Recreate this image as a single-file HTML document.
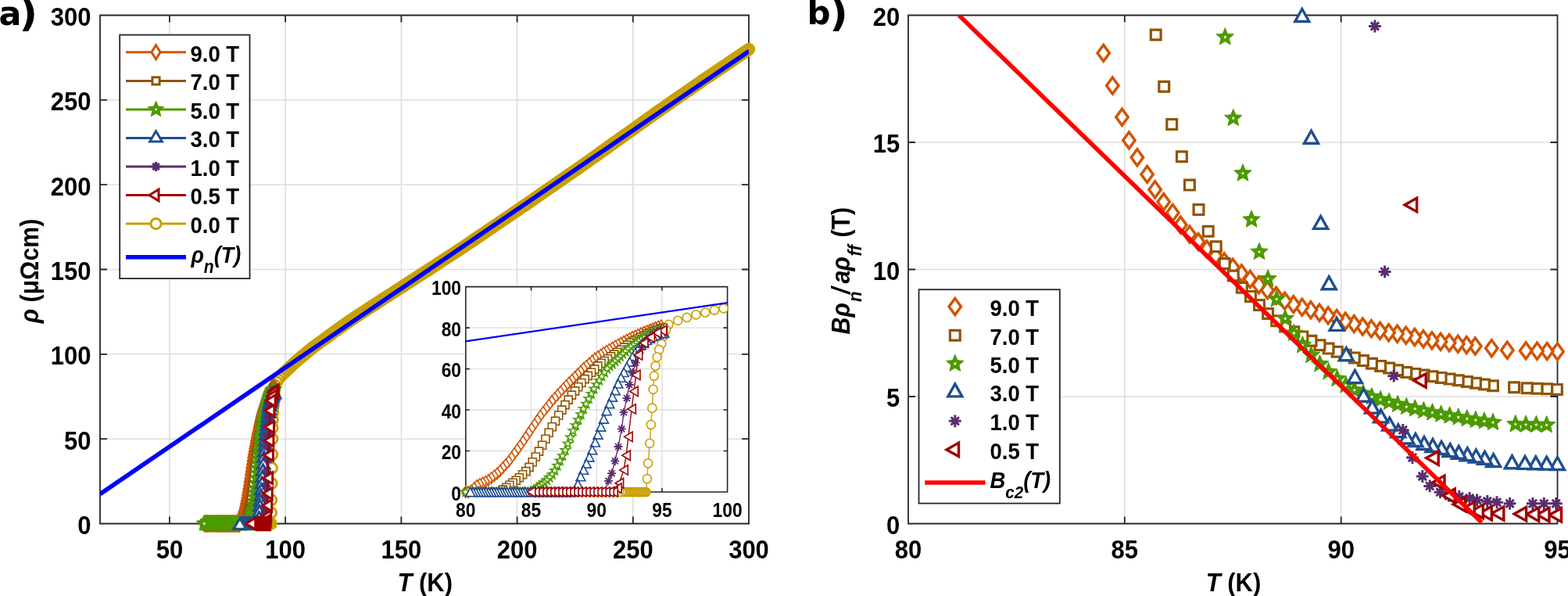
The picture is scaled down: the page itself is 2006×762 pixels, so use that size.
<!DOCTYPE html><html><head><meta charset="utf-8"><title>Figure</title><style>html,body{margin:0;padding:0;background:#fff;}svg{display:block;}</style></head><body>
<svg width="2006" height="762" viewBox="0 0 2006 762" font-family='"Liberation Sans", Arial, Helvetica, sans-serif' font-weight="bold">
<rect width="2006" height="762" fill="#fff"/>
<defs><clipPath id="ca"><rect x="128" y="19.5" width="830" height="650"/></clipPath><clipPath id="cb"><rect x="1162" y="19.5" width="830.5" height="650"/></clipPath><clipPath id="ci"><rect x="595.8" y="366.6" width="334.8" height="262.4"/></clipPath></defs>
<path d="M216.9 19.5V669.5M365.1 19.5V669.5M513.4 19.5V669.5M661.6 19.5V669.5M809.8 19.5V669.5M128 561.2H958M128 452.8H958M128 344.5H958M128 236.2H958M128 127.8H958" stroke="#dedede" stroke-width="1.6" fill="none"/>
<path d="M128 19.5H958V669.5H128ZM216.9 669.5V660.5M216.9 19.5V28.5M365.1 669.5V660.5M365.1 19.5V28.5M513.4 669.5V660.5M513.4 19.5V28.5M661.6 669.5V660.5M661.6 19.5V28.5M809.8 669.5V660.5M809.8 19.5V28.5M958 669.5V660.5M958 19.5V28.5M128 669.5H137M958 669.5H949M128 561.2H137M958 561.2H949M128 452.8H137M958 452.8H949M128 344.5H137M958 344.5H949M128 236.2H137M958 236.2H949M128 127.8H137M958 127.8H949M128 19.5H137M958 19.5H949" stroke="#262626" stroke-width="1.8" fill="none"/>
<path d="M306 669.5L306.9 669.5L307.8 669.5L308.7 669.5L309.6 669.5L310.5 669.5L311.3 669.5L312.2 669.5L313.1 669.5L314 669.5L314.9 669.5L315.8 669.5L316.7 669.5L317.6 669.5L318.5 669.5L319.3 669.5L320.2 669.5L321.1 669.5L322 669.5L322.9 669.5L323.8 669.5L324.7 669.5L325.6 669.5L326.5 669.5L327.3 669.5L328.2 669.5L329.1 669.5L330 669.5L330.9 669.5L331.8 669.5L332.7 669.5L333.6 669.5L334.5 669.5L335.4 669.5L336.2 669.5L337.1 669.5L338 669.5L338.9 669.5L339.8 669.5L340.7 669.5L341.1 669.5L341.4 669.5L341.7 669.5L342 669.5L342.2 669.5L342.5 669.5L342.8 669.5L343.1 669.5L343.4 669.5L343.6 669.5L343.9 669.5L344.2 669.5L344.5 669.5L344.8 669.5L345 669.5L345.3 669.5L345.6 669.5L345.9 669.5L346.1 669.5L346.4 669.5L346.7 669.5L346.9 655.6L347.2 639.2L347.5 618.1L347.8 598.4L348.1 580.9L348.3 561.2L348.5 547.1L348.8 536.5L349.2 527.1L349.7 519.1L350.2 513.3L350.8 504.8L351.2 498.3L351.8 492.7L353.9 488.5L356 485.3L358.1 482.3L360.1 480L362.2 477.6L364.3 475.7L366.6 473.5L369.3 470.9L372 468.4L374.6 465.9L377.3 463.6L380 461.2L382.6 458.8L385.3 456.5L388 454.3L390.6 452.1L393.3 449.9L396 447.8L398.6 445.6L401.3 443.5L404 441.5L406.6 439.6L409.3 437.6L412 435.7L414.6 433.8L417.3 431.8L420 429.9L422.6 427.9L425.3 426L428 424.1L430.7 422.1L433.3 420.2L436 418.2L438.7 416.3L441.3 414.5L444 412.7L446.7 410.9L449.3 409.1L452 407.3L454.7 405.5L457.3 403.7L460 401.9L462.7 400.2L465.3 398.5L468 396.7L470.7 395L473.3 393.3L476 391.6L478.7 389.8L481.3 388.1L484 386.4L486.7 384.6L489.3 382.9L492 381.2L494.7 379.4L497.4 377.7L500 376L502.7 374.2L505.4 372.5L508 370.8L510.7 369.1L513.4 367.3L516 365.6L518.7 363.9L521.4 362.1L524 360.4L526.7 358.7L529.4 356.9L532 355.2L534.7 353.5L537.4 351.8L540 350.1L542.7 348.5L545.4 346.8L548 345.1L550.7 343.3L553.4 341.6L556 339.8L558.7 338.1L561.4 336.3L564 334.6L566.7 332.8L569.4 331.1L572.1 329.3L574.7 327.6L577.4 325.8L580.1 324.1L582.7 322.3L585.4 320.6L588.1 318.8L590.7 317.1L593.4 315.3L596.1 313.6L598.7 311.8L601.4 310L604.1 308.2L606.7 306.4L609.4 304.6L612.1 302.8L614.7 301L617.4 299.2L620.1 297.4L622.7 295.6L625.4 293.8L628.1 291.9L630.7 290.1L633.4 288.3L636.1 286.5L638.7 284.7L641.4 282.9L644.1 281.1L646.8 279.2L649.4 277.4L652.1 275.6L654.8 273.8L657.4 272L660.1 270.2L662.8 268.4L665.4 266.5L668.1 264.7L670.8 262.9L673.4 261.1L676.1 259.2L678.8 257.4L681.4 255.5L684.1 253.7L686.8 251.8L689.4 250L692.1 248.1L694.8 246.3L697.4 244.4L700.1 242.6L702.8 240.7L705.4 238.9L708.1 237L710.8 235.2L713.4 233.3L716.1 231.5L718.8 229.6L721.5 227.8L724.1 225.9L726.8 224.1L729.5 222.2L732.1 220.4L734.8 218.5L737.5 216.7L740.1 214.8L742.8 213L745.5 211.1L748.1 209.3L750.8 207.4L753.5 205.5L756.1 203.6L758.8 201.7L761.5 199.8L764.1 197.9L766.8 196L769.5 194.1L772.1 192.2L774.8 190.3L777.5 188.4L780.1 186.5L782.8 184.6L785.5 182.7L788.1 180.8L790.8 178.9L793.5 177L796.1 175.1L798.8 173.1L801.5 171.2L804.2 169.3L806.8 167.4L809.5 165.5L812.2 163.6L814.8 161.7L817.5 159.8L820.2 157.9L822.8 156L825.5 154.1L828.2 152.2L830.8 150.3L833.5 148.4L836.2 146.5L838.8 144.6L841.5 142.7L844.2 140.9L846.8 139L849.5 137.2L852.2 135.3L854.8 133.5L857.5 131.6L860.2 129.8L862.8 127.9L865.5 126.1L868.2 124.2L870.9 122.4L873.5 120.5L876.2 118.7L878.9 116.8L881.5 115L884.2 113.1L886.9 111.3L889.5 109.4L892.2 107.6L894.9 105.7L897.5 103.9L900.2 102.1L902.9 100.3L905.5 98.5L908.2 96.7L910.9 94.9L913.5 93.1L916.2 91.3L918.9 89.5L921.5 87.7L924.2 85.9L926.9 84.1L929.5 82.3L932.2 80.5L934.9 78.7L937.5 76.9L940.2 75L942.9 73.2L945.5 71.4L948.2 69.6L950.9 67.8L953.6 66L956.2 64.2L958.9 62.4" stroke="#C8A000" stroke-width="2" fill="none" stroke-linejoin="round"/>
<path d="M362.2 477.6L365.1 474.9L371.1 469.2L377 463.8L382.9 458.6L388.9 453.6L394.8 448.7L400.7 443.9L406.6 439.6L412.6 435.3L418.5 431L424.4 426.7L430.4 422.3L436.3 418L442.2 413.9L448.1 409.9L454.1 405.9L460 401.9L465.9 398.1L471.9 394.2L477.8 390.4L483.7 386.6L489.6 382.7L495.6 378.9L501.5 375L507.4 371.2L513.4 367.3L519.3 363.5L525.2 359.6L531.1 355.8L537.1 352L543 348.3L548.9 344.5L554.9 340.6L560.8 336.7L566.7 332.8L572.6 328.9L578.6 325.1L584.5 321.2L590.4 317.3L596.4 313.4L602.3 309.4L608.2 305.4L614.1 301.4L620.1 297.4L626 293.4L631.9 289.3L637.9 285.3L643.8 281.3L649.7 277.2L655.6 273.2L661.6 269.2L667.5 265.1L673.4 261.1L679.4 257L685.3 252.8L691.2 248.7L697.1 244.6L703.1 240.5L709 236.4L714.9 232.3L720.9 228.2L726.8 224.1L732.7 220L738.6 215.9L744.6 211.8L750.5 207.6L756.4 203.4L762.4 199.2L768.3 194.9L774.2 190.7L780.1 186.5L786.1 182.2L792 178L797.9 173.8L803.9 169.6L809.8 165.3L815.7 161.1L821.6 156.9L827.6 152.6L833.5 148.4L839.4 144.2L845.4 140L851.3 135.9L857.2 131.8L863.1 127.7L869.1 123.6L875 119.5L880.9 115.4L886.9 111.3L892.8 107.2L898.7 103.1L904.6 99.1L910.6 95.1L916.5 91.1L922.4 87.1L928.4 83.1L934.3 79.1L940.2 75L946.1 71L952.1 67L958 63" stroke="#C8A000" stroke-width="16.4" fill="none" stroke-linecap="round" stroke-linejoin="round"/>
<g fill="#fff" stroke="#C8A000" stroke-width="3" stroke-linejoin="miter" stroke-miterlimit="10"><path d="M357.7 475.7a6.6 6.6 0 1 0 13.2 0a6.6 6.6 0 1 0 -13.2 0"/><path d="M355.6 477.6a6.6 6.6 0 1 0 13.2 0a6.6 6.6 0 1 0 -13.2 0"/><path d="M353.5 480a6.6 6.6 0 1 0 13.2 0a6.6 6.6 0 1 0 -13.2 0"/><path d="M351.5 482.3a6.6 6.6 0 1 0 13.2 0a6.6 6.6 0 1 0 -13.2 0"/><path d="M349.4 485.3a6.6 6.6 0 1 0 13.2 0a6.6 6.6 0 1 0 -13.2 0"/><path d="M347.3 488.5a6.6 6.6 0 1 0 13.2 0a6.6 6.6 0 1 0 -13.2 0"/><path d="M345.2 492.7a6.6 6.6 0 1 0 13.2 0a6.6 6.6 0 1 0 -13.2 0"/><path d="M344.6 498.3a6.6 6.6 0 1 0 13.2 0a6.6 6.6 0 1 0 -13.2 0"/><path d="M344.2 504.8a6.6 6.6 0 1 0 13.2 0a6.6 6.6 0 1 0 -13.2 0"/><path d="M343.6 513.3a6.6 6.6 0 1 0 13.2 0a6.6 6.6 0 1 0 -13.2 0"/><path d="M343.1 519.1a6.6 6.6 0 1 0 13.2 0a6.6 6.6 0 1 0 -13.2 0"/><path d="M342.6 527.1a6.6 6.6 0 1 0 13.2 0a6.6 6.6 0 1 0 -13.2 0"/><path d="M342.2 536.5a6.6 6.6 0 1 0 13.2 0a6.6 6.6 0 1 0 -13.2 0"/><path d="M341.9 547.1a6.6 6.6 0 1 0 13.2 0a6.6 6.6 0 1 0 -13.2 0"/><path d="M341.7 561.2a6.6 6.6 0 1 0 13.2 0a6.6 6.6 0 1 0 -13.2 0"/><path d="M341.5 580.9a6.6 6.6 0 1 0 13.2 0a6.6 6.6 0 1 0 -13.2 0"/><path d="M341.2 598.4a6.6 6.6 0 1 0 13.2 0a6.6 6.6 0 1 0 -13.2 0"/><path d="M340.9 618.1a6.6 6.6 0 1 0 13.2 0a6.6 6.6 0 1 0 -13.2 0"/><path d="M340.6 639.2a6.6 6.6 0 1 0 13.2 0a6.6 6.6 0 1 0 -13.2 0"/><path d="M340.3 655.6a6.6 6.6 0 1 0 13.2 0a6.6 6.6 0 1 0 -13.2 0"/><path d="M340.1 669.5a6.6 6.6 0 1 0 13.2 0a6.6 6.6 0 1 0 -13.2 0"/><path d="M339.8 669.5a6.6 6.6 0 1 0 13.2 0a6.6 6.6 0 1 0 -13.2 0"/><path d="M339.5 669.5a6.6 6.6 0 1 0 13.2 0a6.6 6.6 0 1 0 -13.2 0"/><path d="M339.3 669.5a6.6 6.6 0 1 0 13.2 0a6.6 6.6 0 1 0 -13.2 0"/><path d="M339 669.5a6.6 6.6 0 1 0 13.2 0a6.6 6.6 0 1 0 -13.2 0"/><path d="M338.7 669.5a6.6 6.6 0 1 0 13.2 0a6.6 6.6 0 1 0 -13.2 0"/><path d="M338.4 669.5a6.6 6.6 0 1 0 13.2 0a6.6 6.6 0 1 0 -13.2 0"/><path d="M338.2 669.5a6.6 6.6 0 1 0 13.2 0a6.6 6.6 0 1 0 -13.2 0"/><path d="M337.9 669.5a6.6 6.6 0 1 0 13.2 0a6.6 6.6 0 1 0 -13.2 0"/><path d="M337.6 669.5a6.6 6.6 0 1 0 13.2 0a6.6 6.6 0 1 0 -13.2 0"/><path d="M337.3 669.5a6.6 6.6 0 1 0 13.2 0a6.6 6.6 0 1 0 -13.2 0"/><path d="M337 669.5a6.6 6.6 0 1 0 13.2 0a6.6 6.6 0 1 0 -13.2 0"/><path d="M336.8 669.5a6.6 6.6 0 1 0 13.2 0a6.6 6.6 0 1 0 -13.2 0"/><path d="M336.5 669.5a6.6 6.6 0 1 0 13.2 0a6.6 6.6 0 1 0 -13.2 0"/><path d="M336.2 669.5a6.6 6.6 0 1 0 13.2 0a6.6 6.6 0 1 0 -13.2 0"/><path d="M335.9 669.5a6.6 6.6 0 1 0 13.2 0a6.6 6.6 0 1 0 -13.2 0"/><path d="M335.6 669.5a6.6 6.6 0 1 0 13.2 0a6.6 6.6 0 1 0 -13.2 0"/><path d="M335.4 669.5a6.6 6.6 0 1 0 13.2 0a6.6 6.6 0 1 0 -13.2 0"/><path d="M335.1 669.5a6.6 6.6 0 1 0 13.2 0a6.6 6.6 0 1 0 -13.2 0"/><path d="M334.8 669.5a6.6 6.6 0 1 0 13.2 0a6.6 6.6 0 1 0 -13.2 0"/><path d="M334.5 669.5a6.6 6.6 0 1 0 13.2 0a6.6 6.6 0 1 0 -13.2 0"/><path d="M334.1 669.5a6.6 6.6 0 1 0 13.2 0a6.6 6.6 0 1 0 -13.2 0"/><path d="M333.2 669.5a6.6 6.6 0 1 0 13.2 0a6.6 6.6 0 1 0 -13.2 0"/><path d="M332.3 669.5a6.6 6.6 0 1 0 13.2 0a6.6 6.6 0 1 0 -13.2 0"/><path d="M331.4 669.5a6.6 6.6 0 1 0 13.2 0a6.6 6.6 0 1 0 -13.2 0"/><path d="M330.5 669.5a6.6 6.6 0 1 0 13.2 0a6.6 6.6 0 1 0 -13.2 0"/><path d="M329.6 669.5a6.6 6.6 0 1 0 13.2 0a6.6 6.6 0 1 0 -13.2 0"/><path d="M328.8 669.5a6.6 6.6 0 1 0 13.2 0a6.6 6.6 0 1 0 -13.2 0"/><path d="M327.9 669.5a6.6 6.6 0 1 0 13.2 0a6.6 6.6 0 1 0 -13.2 0"/><path d="M327 669.5a6.6 6.6 0 1 0 13.2 0a6.6 6.6 0 1 0 -13.2 0"/><path d="M326.1 669.5a6.6 6.6 0 1 0 13.2 0a6.6 6.6 0 1 0 -13.2 0"/><path d="M325.2 669.5a6.6 6.6 0 1 0 13.2 0a6.6 6.6 0 1 0 -13.2 0"/><path d="M324.3 669.5a6.6 6.6 0 1 0 13.2 0a6.6 6.6 0 1 0 -13.2 0"/><path d="M323.4 669.5a6.6 6.6 0 1 0 13.2 0a6.6 6.6 0 1 0 -13.2 0"/><path d="M322.5 669.5a6.6 6.6 0 1 0 13.2 0a6.6 6.6 0 1 0 -13.2 0"/><path d="M321.6 669.5a6.6 6.6 0 1 0 13.2 0a6.6 6.6 0 1 0 -13.2 0"/><path d="M320.7 669.5a6.6 6.6 0 1 0 13.2 0a6.6 6.6 0 1 0 -13.2 0"/><path d="M319.9 669.5a6.6 6.6 0 1 0 13.2 0a6.6 6.6 0 1 0 -13.2 0"/><path d="M319 669.5a6.6 6.6 0 1 0 13.2 0a6.6 6.6 0 1 0 -13.2 0"/><path d="M318.1 669.5a6.6 6.6 0 1 0 13.2 0a6.6 6.6 0 1 0 -13.2 0"/><path d="M317.2 669.5a6.6 6.6 0 1 0 13.2 0a6.6 6.6 0 1 0 -13.2 0"/><path d="M316.3 669.5a6.6 6.6 0 1 0 13.2 0a6.6 6.6 0 1 0 -13.2 0"/><path d="M315.4 669.5a6.6 6.6 0 1 0 13.2 0a6.6 6.6 0 1 0 -13.2 0"/><path d="M314.5 669.5a6.6 6.6 0 1 0 13.2 0a6.6 6.6 0 1 0 -13.2 0"/><path d="M313.6 669.5a6.6 6.6 0 1 0 13.2 0a6.6 6.6 0 1 0 -13.2 0"/><path d="M312.7 669.5a6.6 6.6 0 1 0 13.2 0a6.6 6.6 0 1 0 -13.2 0"/><path d="M311.9 669.5a6.6 6.6 0 1 0 13.2 0a6.6 6.6 0 1 0 -13.2 0"/><path d="M311 669.5a6.6 6.6 0 1 0 13.2 0a6.6 6.6 0 1 0 -13.2 0"/><path d="M310.1 669.5a6.6 6.6 0 1 0 13.2 0a6.6 6.6 0 1 0 -13.2 0"/><path d="M309.2 669.5a6.6 6.6 0 1 0 13.2 0a6.6 6.6 0 1 0 -13.2 0"/><path d="M308.3 669.5a6.6 6.6 0 1 0 13.2 0a6.6 6.6 0 1 0 -13.2 0"/><path d="M307.4 669.5a6.6 6.6 0 1 0 13.2 0a6.6 6.6 0 1 0 -13.2 0"/><path d="M306.5 669.5a6.6 6.6 0 1 0 13.2 0a6.6 6.6 0 1 0 -13.2 0"/><path d="M305.6 669.5a6.6 6.6 0 1 0 13.2 0a6.6 6.6 0 1 0 -13.2 0"/><path d="M304.7 669.5a6.6 6.6 0 1 0 13.2 0a6.6 6.6 0 1 0 -13.2 0"/><path d="M303.9 669.5a6.6 6.6 0 1 0 13.2 0a6.6 6.6 0 1 0 -13.2 0"/><path d="M303 669.5a6.6 6.6 0 1 0 13.2 0a6.6 6.6 0 1 0 -13.2 0"/><path d="M302.1 669.5a6.6 6.6 0 1 0 13.2 0a6.6 6.6 0 1 0 -13.2 0"/><path d="M301.2 669.5a6.6 6.6 0 1 0 13.2 0a6.6 6.6 0 1 0 -13.2 0"/><path d="M300.3 669.5a6.6 6.6 0 1 0 13.2 0a6.6 6.6 0 1 0 -13.2 0"/><path d="M299.4 669.5a6.6 6.6 0 1 0 13.2 0a6.6 6.6 0 1 0 -13.2 0"/></g>
<path d="M261.4 669.5L262.9 669.5L264.4 669.5L265.8 669.5L267.3 669.5L268.8 669.5L270.3 669.5L271.8 669.5L273.2 669.5L274.7 669.5L276.2 669.5L277.7 669.5L279.2 669.5L280.7 669.5L282.1 669.5L283.6 669.5L285.1 669.5L286.6 669.5L288.1 669.5L289.6 669.5L291 669.5L292.5 669.5L294 669.5L295.5 669.5L297 669.5L298.4 669.5L299.9 669.5L301.4 669.5L302.9 669.5L304.4 669.5L305.9 669.5L306.4 669.5L307.1 668.1L307.8 665.4L308.4 662.8L309.1 661.3L309.7 660L310.4 658.6L311 657.1L311.7 654.7L312.3 652.4L313 650.1L313.6 647.2L314.3 643.9L314.9 640.5L315.6 637.2L316.2 633.2L316.9 629.1L317.5 624.9L318.2 620.8L318.8 616.2L319.5 611.7L320.1 607.2L320.8 602.7L321.4 598.2L322.1 593.7L322.8 589.2L323.4 585.2L324.1 581.4L324.7 577.6L325.4 573.7L326 570.4L326.7 567L327.3 563.6L328 560.3L328.6 557.3L329.3 554.2L329.9 551.2L330.6 548.1L331.2 545.1L331.9 542.1L332.5 539L333.2 536.4L333.8 533.8L334.5 531.2L335.1 528.7L335.8 526.7L336.4 524.7L337.1 522.6L337.8 520.7L338.4 519L339.1 517.3L339.7 515.6L340.4 514L341 512.3L341.7 510.7L342.3 509.1L343 507.5L343.6 505.9L344.3 504.6L344.9 503.3L345.6 502L346.2 500.8L346.9 499.5L347.5 498.3L348.2 497.2L348.8 496.1L349.5 495L350.1 493.9" stroke="#D25400" stroke-width="2" fill="none" stroke-linejoin="round"/>
<g fill="#fff" stroke="#D25400" stroke-width="3" stroke-linejoin="miter" stroke-miterlimit="10"><path d="M350.1 484.9L355.7 493.9L350.1 502.9L344.5 493.9Z"/><path d="M349.5 486L355.1 495L349.5 504L343.9 495Z"/><path d="M348.8 487.1L354.4 496.1L348.8 505.1L343.2 496.1Z"/><path d="M348.2 488.2L353.8 497.2L348.2 506.2L342.6 497.2Z"/><path d="M347.5 489.3L353.1 498.3L347.5 507.3L341.9 498.3Z"/><path d="M346.9 490.5L352.5 499.5L346.9 508.5L341.3 499.5Z"/><path d="M346.2 491.8L351.8 500.8L346.2 509.8L340.6 500.8Z"/><path d="M345.6 493L351.2 502L345.6 511L340 502Z"/><path d="M344.9 494.3L350.5 503.3L344.9 512.3L339.3 503.3Z"/><path d="M344.3 495.6L349.9 504.6L344.3 513.6L338.7 504.6Z"/><path d="M343.6 496.9L349.2 505.9L343.6 514.9L338 505.9Z"/><path d="M343 498.5L348.6 507.5L343 516.5L337.4 507.5Z"/><path d="M342.3 500.1L347.9 509.1L342.3 518.1L336.7 509.1Z"/><path d="M341.7 501.7L347.3 510.7L341.7 519.7L336.1 510.7Z"/><path d="M341 503.3L346.6 512.3L341 521.3L335.4 512.3Z"/><path d="M340.4 505L346 514L340.4 523L334.8 514Z"/><path d="M339.7 506.6L345.3 515.6L339.7 524.6L334.1 515.6Z"/><path d="M339.1 508.3L344.7 517.3L339.1 526.3L333.5 517.3Z"/><path d="M338.4 510L344 519L338.4 528L332.8 519Z"/><path d="M337.8 511.7L343.4 520.7L337.8 529.7L332.2 520.7Z"/><path d="M337.1 513.6L342.7 522.6L337.1 531.6L331.5 522.6Z"/><path d="M336.4 515.7L342 524.7L336.4 533.7L330.8 524.7Z"/><path d="M335.8 517.7L341.4 526.7L335.8 535.7L330.2 526.7Z"/><path d="M335.1 519.7L340.7 528.7L335.1 537.7L329.5 528.7Z"/><path d="M334.5 522.2L340.1 531.2L334.5 540.2L328.9 531.2Z"/><path d="M333.8 524.8L339.4 533.8L333.8 542.8L328.2 533.8Z"/><path d="M333.2 527.4L338.8 536.4L333.2 545.4L327.6 536.4Z"/><path d="M332.5 530L338.1 539L332.5 548L326.9 539Z"/><path d="M331.9 533.1L337.5 542.1L331.9 551.1L326.3 542.1Z"/><path d="M331.2 536.1L336.8 545.1L331.2 554.1L325.6 545.1Z"/><path d="M330.6 539.1L336.2 548.1L330.6 557.1L325 548.1Z"/><path d="M329.9 542.2L335.5 551.2L329.9 560.2L324.3 551.2Z"/><path d="M329.3 545.2L334.9 554.2L329.3 563.2L323.7 554.2Z"/><path d="M328.6 548.3L334.2 557.3L328.6 566.3L323 557.3Z"/><path d="M328 551.3L333.6 560.3L328 569.3L322.4 560.3Z"/><path d="M327.3 554.6L332.9 563.6L327.3 572.6L321.7 563.6Z"/><path d="M326.7 558L332.3 567L326.7 576L321.1 567Z"/><path d="M326 561.4L331.6 570.4L326 579.4L320.4 570.4Z"/><path d="M325.4 564.7L331 573.7L325.4 582.7L319.8 573.7Z"/><path d="M324.7 568.6L330.3 577.6L324.7 586.6L319.1 577.6Z"/><path d="M324.1 572.4L329.7 581.4L324.1 590.4L318.5 581.4Z"/><path d="M323.4 576.2L329 585.2L323.4 594.2L317.8 585.2Z"/><path d="M322.8 580.2L328.4 589.2L322.8 598.2L317.2 589.2Z"/><path d="M322.1 584.7L327.7 593.7L322.1 602.7L316.5 593.7Z"/><path d="M321.4 589.2L327 598.2L321.4 607.2L315.8 598.2Z"/><path d="M320.8 593.7L326.4 602.7L320.8 611.7L315.2 602.7Z"/><path d="M320.1 598.2L325.7 607.2L320.1 616.2L314.5 607.2Z"/><path d="M319.5 602.7L325.1 611.7L319.5 620.7L313.9 611.7Z"/><path d="M318.8 607.2L324.4 616.2L318.8 625.2L313.2 616.2Z"/><path d="M318.2 611.8L323.8 620.8L318.2 629.8L312.6 620.8Z"/><path d="M317.5 615.9L323.1 624.9L317.5 633.9L311.9 624.9Z"/><path d="M316.9 620.1L322.5 629.1L316.9 638.1L311.3 629.1Z"/><path d="M316.2 624.2L321.8 633.2L316.2 642.2L310.6 633.2Z"/><path d="M315.6 628.2L321.2 637.2L315.6 646.2L310 637.2Z"/><path d="M314.9 631.5L320.5 640.5L314.9 649.5L309.3 640.5Z"/><path d="M314.3 634.9L319.9 643.9L314.3 652.9L308.7 643.9Z"/><path d="M313.6 638.2L319.2 647.2L313.6 656.2L308 647.2Z"/><path d="M313 641.1L318.6 650.1L313 659.1L307.4 650.1Z"/><path d="M312.3 643.4L317.9 652.4L312.3 661.4L306.7 652.4Z"/><path d="M311.7 645.7L317.3 654.7L311.7 663.7L306.1 654.7Z"/><path d="M311 648.1L316.6 657.1L311 666.1L305.4 657.1Z"/><path d="M310.4 649.6L316 658.6L310.4 667.6L304.8 658.6Z"/><path d="M309.7 651L315.3 660L309.7 669L304.1 660Z"/><path d="M309.1 652.3L314.7 661.3L309.1 670.3L303.5 661.3Z"/><path d="M308.4 653.8L314 662.8L308.4 671.8L302.8 662.8Z"/><path d="M307.8 656.4L313.4 665.4L307.8 674.4L302.2 665.4Z"/><path d="M307.1 659.1L312.7 668.1L307.1 677.1L301.5 668.1Z"/><path d="M306.4 660.5L312.1 669.5L306.4 678.5L300.8 669.5Z"/><path d="M305.9 660.5L311.5 669.5L305.9 678.5L300.3 669.5Z"/><path d="M304.4 660.5L310 669.5L304.4 678.5L298.8 669.5Z"/><path d="M302.9 660.5L308.5 669.5L302.9 678.5L297.3 669.5Z"/><path d="M301.4 660.5L307 669.5L301.4 678.5L295.8 669.5Z"/><path d="M299.9 660.5L305.5 669.5L299.9 678.5L294.3 669.5Z"/><path d="M298.4 660.5L304 669.5L298.4 678.5L292.8 669.5Z"/><path d="M297 660.5L302.6 669.5L297 678.5L291.4 669.5Z"/><path d="M295.5 660.5L301.1 669.5L295.5 678.5L289.9 669.5Z"/><path d="M294 660.5L299.6 669.5L294 678.5L288.4 669.5Z"/><path d="M292.5 660.5L298.1 669.5L292.5 678.5L286.9 669.5Z"/><path d="M291 660.5L296.6 669.5L291 678.5L285.4 669.5Z"/><path d="M289.6 660.5L295.2 669.5L289.6 678.5L284 669.5Z"/><path d="M288.1 660.5L293.7 669.5L288.1 678.5L282.5 669.5Z"/><path d="M286.6 660.5L292.2 669.5L286.6 678.5L281 669.5Z"/><path d="M285.1 660.5L290.7 669.5L285.1 678.5L279.5 669.5Z"/><path d="M283.6 660.5L289.2 669.5L283.6 678.5L278 669.5Z"/><path d="M282.1 660.5L287.7 669.5L282.1 678.5L276.5 669.5Z"/><path d="M280.7 660.5L286.3 669.5L280.7 678.5L275.1 669.5Z"/><path d="M279.2 660.5L284.8 669.5L279.2 678.5L273.6 669.5Z"/><path d="M277.7 660.5L283.3 669.5L277.7 678.5L272.1 669.5Z"/><path d="M276.2 660.5L281.8 669.5L276.2 678.5L270.6 669.5Z"/><path d="M274.7 660.5L280.3 669.5L274.7 678.5L269.1 669.5Z"/><path d="M273.2 660.5L278.9 669.5L273.2 678.5L267.6 669.5Z"/><path d="M271.8 660.5L277.4 669.5L271.8 678.5L266.2 669.5Z"/><path d="M270.3 660.5L275.9 669.5L270.3 678.5L264.7 669.5Z"/><path d="M268.8 660.5L274.4 669.5L268.8 678.5L263.2 669.5Z"/><path d="M267.3 660.5L272.9 669.5L267.3 678.5L261.7 669.5Z"/><path d="M265.8 660.5L271.4 669.5L265.8 678.5L260.2 669.5Z"/><path d="M264.4 660.5L270 669.5L264.4 678.5L258.8 669.5Z"/><path d="M262.9 660.5L268.5 669.5L262.9 678.5L257.3 669.5Z"/><path d="M261.4 660.5L267 669.5L261.4 678.5L255.8 669.5Z"/></g>
<path d="M262 669.5L263.5 669.5L264.9 669.5L266.4 669.5L267.9 669.5L269.4 669.5L270.9 669.5L272.4 669.5L273.8 669.5L275.3 669.5L276.8 669.5L278.3 669.5L279.8 669.5L281.3 669.5L282.7 669.5L284.2 669.5L285.7 669.5L287.2 669.5L288.7 669.5L290.1 669.5L291.6 669.5L293.1 669.5L294.6 669.5L296.1 669.5L297.6 669.5L299 669.5L300.5 669.5L302 669.5L303.5 669.5L305 669.5L306.4 669.5L307.9 669.5L309.4 669.5L310.9 669.5L312.4 669.5L313.6 669.5L314.3 667.1L315 664.7L315.8 662.3L316.5 659.8L317.3 657.3L318 654.5L318.8 651.1L319.5 647.7L320.2 643.4L321 637.9L321.7 632.3L322.5 626.7L323.2 620.1L323.9 613.6L324.7 607L325.4 600.8L326.2 594.7L326.9 588.5L327.6 582.9L328.4 577.5L329.1 572.2L329.9 567.2L330.6 562.9L331.3 558.6L332.1 554.3L332.8 550.2L333.6 546.8L334.3 543.4L335.1 539.9L335.8 536.5L336.5 533.5L337.3 531.2L338 528.9L338.8 526.5L339.5 524.2L340.2 521.8L341 519.4L341.7 516.9L342.5 514.4L343.2 511.9L343.9 509.8L344.7 508L345.4 506.2L346.2 504.5L346.9 502.7L347.7 501L348.4 499.7L349.1 498.3L349.9 497L350.6 496.2" stroke="#8F5500" stroke-width="2" fill="none" stroke-linejoin="round"/>
<g fill="#fff" stroke="#8F5500" stroke-width="3" stroke-linejoin="miter" stroke-miterlimit="10"><path d="M346 491.6H355.2V500.8H346Z"/><path d="M345.3 492.4H354.5V501.6H345.3Z"/><path d="M344.5 493.7H353.7V502.9H344.5Z"/><path d="M343.8 495.1H353V504.3H343.8Z"/><path d="M343.1 496.4H352.3V505.6H343.1Z"/><path d="M342.3 498.1H351.5V507.3H342.3Z"/><path d="M341.6 499.9H350.8V509.1H341.6Z"/><path d="M340.8 501.6H350V510.8H340.8Z"/><path d="M340.1 503.4H349.3V512.6H340.1Z"/><path d="M339.3 505.2H348.5V514.4H339.3Z"/><path d="M338.6 507.3H347.8V516.5H338.6Z"/><path d="M337.9 509.8H347.1V519H337.9Z"/><path d="M337.1 512.3H346.3V521.5H337.1Z"/><path d="M336.4 514.8H345.6V524H336.4Z"/><path d="M335.6 517.2H344.8V526.4H335.6Z"/><path d="M334.9 519.6H344.1V528.8H334.9Z"/><path d="M334.2 521.9H343.4V531.1H334.2Z"/><path d="M333.4 524.3H342.6V533.5H333.4Z"/><path d="M332.7 526.6H341.9V535.8H332.7Z"/><path d="M331.9 528.9H341.1V538.1H331.9Z"/><path d="M331.2 531.9H340.4V541.1H331.2Z"/><path d="M330.5 535.3H339.7V544.5H330.5Z"/><path d="M329.7 538.8H338.9V548H329.7Z"/><path d="M329 542.2H338.2V551.4H329Z"/><path d="M328.2 545.6H337.4V554.8H328.2Z"/><path d="M327.5 549.7H336.7V558.9H327.5Z"/><path d="M326.7 554H335.9V563.2H326.7Z"/><path d="M326 558.3H335.2V567.5H326Z"/><path d="M325.3 562.6H334.5V571.8H325.3Z"/><path d="M324.5 567.6H333.7V576.8H324.5Z"/><path d="M323.8 572.9H333V582.1H323.8Z"/><path d="M323 578.3H332.2V587.5H323Z"/><path d="M322.3 583.9H331.5V593.1H322.3Z"/><path d="M321.6 590.1H330.8V599.3H321.6Z"/><path d="M320.8 596.2H330V605.4H320.8Z"/><path d="M320.1 602.4H329.3V611.6H320.1Z"/><path d="M319.3 609H328.5V618.2H319.3Z"/><path d="M318.6 615.5H327.8V624.7H318.6Z"/><path d="M317.9 622.1H327.1V631.3H317.9Z"/><path d="M317.1 627.7H326.3V636.9H317.1Z"/><path d="M316.4 633.3H325.6V642.5H316.4Z"/><path d="M315.6 638.8H324.8V648H315.6Z"/><path d="M314.9 643.1H324.1V652.3H314.9Z"/><path d="M314.2 646.5H323.4V655.7H314.2Z"/><path d="M313.4 649.9H322.6V659.1H313.4Z"/><path d="M312.7 652.7H321.9V661.9H312.7Z"/><path d="M311.9 655.2H321.1V664.4H311.9Z"/><path d="M311.2 657.7H320.4V666.9H311.2Z"/><path d="M310.4 660.1H319.6V669.3H310.4Z"/><path d="M309.7 662.5H318.9V671.7H309.7Z"/><path d="M309 664.9H318.2V674.1H309Z"/><path d="M307.8 664.9H317V674.1H307.8Z"/><path d="M306.3 664.9H315.5V674.1H306.3Z"/><path d="M304.8 664.9H314V674.1H304.8Z"/><path d="M303.3 664.9H312.5V674.1H303.3Z"/><path d="M301.8 664.9H311.1V674.1H301.8Z"/><path d="M300.4 664.9H309.6V674.1H300.4Z"/><path d="M298.9 664.9H308.1V674.1H298.9Z"/><path d="M297.4 664.9H306.6V674.1H297.4Z"/><path d="M295.9 664.9H305.1V674.1H295.9Z"/><path d="M294.4 664.9H303.6V674.1H294.4Z"/><path d="M293 664.9H302.2V674.1H293Z"/><path d="M291.5 664.9H300.7V674.1H291.5Z"/><path d="M290 664.9H299.2V674.1H290Z"/><path d="M288.5 664.9H297.7V674.1H288.5Z"/><path d="M287 664.9H296.2V674.1H287Z"/><path d="M285.5 664.9H294.7V674.1H285.5Z"/><path d="M284.1 664.9H293.3V674.1H284.1Z"/><path d="M282.6 664.9H291.8V674.1H282.6Z"/><path d="M281.1 664.9H290.3V674.1H281.1Z"/><path d="M279.6 664.9H288.8V674.1H279.6Z"/><path d="M278.1 664.9H287.3V674.1H278.1Z"/><path d="M276.7 664.9H285.9V674.1H276.7Z"/><path d="M275.2 664.9H284.4V674.1H275.2Z"/><path d="M273.7 664.9H282.9V674.1H273.7Z"/><path d="M272.2 664.9H281.4V674.1H272.2Z"/><path d="M270.7 664.9H279.9V674.1H270.7Z"/><path d="M269.2 664.9H278.4V674.1H269.2Z"/><path d="M267.8 664.9H277V674.1H267.8Z"/><path d="M266.3 664.9H275.5V674.1H266.3Z"/><path d="M264.8 664.9H274V674.1H264.8Z"/><path d="M263.3 664.9H272.5V674.1H263.3Z"/><path d="M261.8 664.9H271V674.1H261.8Z"/><path d="M260.3 664.9H269.6V674.1H260.3Z"/><path d="M258.9 664.9H268.1V674.1H258.9Z"/><path d="M257.4 664.9H266.6V674.1H257.4Z"/></g>
<path d="M261.4 669.5L262.9 669.5L264.4 669.5L265.8 669.5L267.3 669.5L268.8 669.5L270.3 669.5L271.8 669.5L273.2 669.5L274.7 669.5L276.2 669.5L277.7 669.5L279.2 669.5L280.7 669.5L282.1 669.5L283.6 669.5L285.1 669.5L286.6 669.5L288.1 669.5L289.6 669.5L291 669.5L292.5 669.5L294 669.5L295.5 669.5L297 669.5L298.4 669.5L299.9 669.5L301.4 669.5L302.9 669.5L304.4 669.5L305.9 669.5L307.3 669.5L308.8 669.5L310.3 669.5L311.8 669.5L313.3 669.5L314.8 669.5L316.2 669.5L317.7 669.5L319.2 669.5L320.7 669.5L320.7 669.5L321.3 667.5L321.9 665.5L322.5 663.6L323.1 661.6L323.6 659.6L324.2 657.2L324.8 654.2L325.4 651.2L326 646.9L326.6 641.7L327.2 636.5L327.8 631.4L328.4 625.4L329 618.6L329.6 611.8L330.2 605.1L330.8 599.2L331.3 593.4L331.9 587.6L332.5 581.8L333.1 576.4L333.7 571.2L334.3 565.9L334.9 560.7L335.5 556.2L336.1 551.9L336.7 547.6L337.3 543.4L337.9 539.4L338.5 536.8L339.1 534.3L339.7 531.7L340.2 529.1L340.8 526.5L341.4 523.9L342 521.3L342.6 518.7L343.2 516.4L343.8 514.4L344.4 512.4L345 510.4L345.6 508.4L346.2 506.7L346.8 505.4L347.4 504L347.9 502.6L348.5 501.2L349.1 500L349.7 498.9L350.3 497.8" stroke="#4C9A00" stroke-width="2" fill="none" stroke-linejoin="round"/>
<g fill="#4C9A00" stroke="#4C9A00" stroke-width="1" stroke-linejoin="miter"><path d="M350.3 487L353.2 493.9L360.6 494.5L354.9 499.3L356.7 506.5L350.3 502.7L344 506.5L345.7 499.3L340.1 494.5L347.5 493.9Z"/><path d="M350.3 495.6L350.9 497L352.4 497.1L351.2 498.1L351.6 499.5L350.3 498.8L349.1 499.5L349.4 498.1L348.3 497.1L349.8 497Z" fill="#fff" stroke="none"/><path d="M349.7 488.1L352.6 494.9L360 495.5L354.4 500.4L356.1 507.6L349.7 503.7L343.4 507.6L345.1 500.4L339.5 495.5L346.9 494.9Z"/><path d="M349.7 496.7L350.3 498.1L351.8 498.2L350.7 499.2L351 500.6L349.7 499.8L348.5 500.6L348.8 499.2L347.7 498.2L349.2 498.1Z" fill="#fff" stroke="none"/><path d="M349.1 489.2L352 496L359.4 496.6L353.8 501.5L355.5 508.7L349.1 504.8L342.8 508.7L344.5 501.5L338.9 496.6L346.3 496Z"/><path d="M349.1 497.8L349.7 499.2L351.2 499.3L350.1 500.3L350.4 501.7L349.1 500.9L347.9 501.7L348.2 500.3L347.1 499.3L348.6 499.2Z" fill="#fff" stroke="none"/><path d="M348.5 490.4L351.4 497.3L358.8 497.9L353.2 502.7L354.9 509.9L348.5 506.1L342.2 509.9L343.9 502.7L338.3 497.9L345.7 497.3Z"/><path d="M348.5 499L349.1 500.4L350.6 500.5L349.5 501.5L349.8 502.9L348.5 502.2L347.3 502.9L347.6 501.5L346.5 500.5L348 500.4Z" fill="#fff" stroke="none"/><path d="M347.9 491.8L350.8 498.6L358.2 499.2L352.6 504.1L354.3 511.3L347.9 507.4L341.6 511.3L343.3 504.1L337.7 499.2L345.1 498.6Z"/><path d="M347.9 500.4L348.5 501.8L350 501.9L348.9 502.9L349.2 504.3L347.9 503.6L346.7 504.3L347 502.9L345.9 501.9L347.4 501.8Z" fill="#fff" stroke="none"/><path d="M347.4 493.2L350.2 500L357.6 500.6L352 505.5L353.7 512.7L347.4 508.8L341 512.7L342.7 505.5L337.1 500.6L344.5 500Z"/><path d="M347.4 501.8L347.9 503.2L349.4 503.3L348.3 504.3L348.6 505.7L347.4 504.9L346.1 505.7L346.4 504.3L345.3 503.3L346.8 503.2Z" fill="#fff" stroke="none"/><path d="M346.8 494.6L349.6 501.4L357 502L351.4 506.9L353.1 514.1L346.8 510.2L340.4 514.1L342.1 506.9L336.5 502L343.9 501.4Z"/><path d="M346.8 503.2L347.3 504.6L348.8 504.7L347.7 505.7L348 507.1L346.8 506.3L345.5 507.1L345.8 505.7L344.7 504.7L346.2 504.6Z" fill="#fff" stroke="none"/><path d="M346.2 495.9L349 502.8L356.4 503.4L350.8 508.2L352.5 515.5L346.2 511.6L339.8 515.5L341.5 508.2L335.9 503.4L343.3 502.8Z"/><path d="M346.2 504.6L346.7 506L348.2 506.1L347.1 507L347.4 508.5L346.2 507.7L344.9 508.5L345.2 507L344.1 506.1L345.6 506Z" fill="#fff" stroke="none"/><path d="M345.6 497.6L348.4 504.5L355.8 505.1L350.2 509.9L351.9 517.2L345.6 513.3L339.2 517.2L341 509.9L335.3 505.1L342.7 504.5Z"/><path d="M345.6 506.3L346.1 507.6L347.6 507.8L346.5 508.7L346.8 510.2L345.6 509.4L344.3 510.2L344.7 508.7L343.5 507.8L345 507.6Z" fill="#fff" stroke="none"/><path d="M345 499.6L347.8 506.5L355.3 507.1L349.6 511.9L351.3 519.2L345 515.3L338.6 519.2L340.4 511.9L334.7 507.1L342.1 506.5Z"/><path d="M345 508.3L345.6 509.6L347 509.8L345.9 510.7L346.3 512.2L345 511.4L343.7 512.2L344.1 510.7L342.9 509.8L344.4 509.6Z" fill="#fff" stroke="none"/><path d="M344.4 501.6L347.2 508.5L354.7 509.1L349 513.9L350.7 521.2L344.4 517.3L338 521.2L339.8 513.9L334.1 509.1L341.5 508.5Z"/><path d="M344.4 510.3L345 511.6L346.4 511.7L345.3 512.7L345.7 514.2L344.4 513.4L343.1 514.2L343.5 512.7L342.3 511.7L343.8 511.6Z" fill="#fff" stroke="none"/><path d="M343.8 503.6L346.7 510.5L354.1 511.1L348.4 515.9L350.1 523.1L343.8 519.3L337.5 523.1L339.2 515.9L333.5 511.1L340.9 510.5Z"/><path d="M343.8 512.3L344.4 513.6L345.9 513.7L344.7 514.7L345.1 516.2L343.8 515.4L342.5 516.2L342.9 514.7L341.7 513.7L343.2 513.6Z" fill="#fff" stroke="none"/><path d="M343.2 505.6L346.1 512.5L353.5 513.1L347.8 517.9L349.6 525.1L343.2 521.3L336.9 525.1L338.6 517.9L332.9 513.1L340.4 512.5Z"/><path d="M343.2 514.2L343.8 515.6L345.3 515.7L344.1 516.7L344.5 518.2L343.2 517.4L341.9 518.2L342.3 516.7L341.2 515.7L342.6 515.6Z" fill="#fff" stroke="none"/><path d="M342.6 507.9L345.5 514.8L352.9 515.4L347.2 520.2L349 527.4L342.6 523.6L336.3 527.4L338 520.2L332.3 515.4L339.8 514.8Z"/><path d="M342.6 516.5L343.2 517.9L344.7 518L343.5 519L343.9 520.4L342.6 519.7L341.3 520.4L341.7 519L340.6 518L342 517.9Z" fill="#fff" stroke="none"/><path d="M342 510.5L344.9 517.4L352.3 518L346.6 522.8L348.4 530L342 526.2L335.7 530L337.4 522.8L331.8 518L339.2 517.4Z"/><path d="M342 519.1L342.6 520.5L344.1 520.6L342.9 521.6L343.3 523L342 522.3L340.8 523L341.1 521.6L340 520.6L341.5 520.5Z" fill="#fff" stroke="none"/><path d="M341.4 513.1L344.3 520L351.7 520.6L346.1 525.4L347.8 532.6L341.4 528.8L335.1 532.6L336.8 525.4L331.2 520.6L338.6 520Z"/><path d="M341.4 521.7L342 523.1L343.5 523.2L342.4 524.2L342.7 525.6L341.4 524.9L340.2 525.6L340.5 524.2L339.4 523.2L340.9 523.1Z" fill="#fff" stroke="none"/><path d="M340.8 515.7L343.7 522.6L351.1 523.2L345.5 528L347.2 535.2L340.8 531.4L334.5 535.2L336.2 528L330.6 523.2L338 522.6Z"/><path d="M340.8 524.3L341.4 525.7L342.9 525.8L341.8 526.8L342.1 528.2L340.8 527.5L339.6 528.2L339.9 526.8L338.8 525.8L340.3 525.7Z" fill="#fff" stroke="none"/><path d="M340.2 518.3L343.1 525.2L350.5 525.8L344.9 530.6L346.6 537.8L340.2 534L333.9 537.8L335.6 530.6L330 525.8L337.4 525.2Z"/><path d="M340.2 526.9L340.8 528.3L342.3 528.4L341.2 529.4L341.5 530.8L340.2 530.1L339 530.8L339.3 529.4L338.2 528.4L339.7 528.3Z" fill="#fff" stroke="none"/><path d="M339.7 520.9L342.5 527.7L349.9 528.3L344.3 533.2L346 540.4L339.7 536.5L333.3 540.4L335 533.2L329.4 528.3L336.8 527.7Z"/><path d="M339.7 529.5L340.2 530.9L341.7 531L340.6 532L340.9 533.4L339.7 532.7L338.4 533.4L338.7 532L337.6 531L339.1 530.9Z" fill="#fff" stroke="none"/><path d="M339.1 523.5L341.9 530.3L349.3 530.9L343.7 535.8L345.4 543L339.1 539.1L332.7 543L334.4 535.8L328.8 530.9L336.2 530.3Z"/><path d="M339.1 532.1L339.6 533.5L341.1 533.6L340 534.6L340.3 536L339.1 535.2L337.8 536L338.1 534.6L337 533.6L338.5 533.5Z" fill="#fff" stroke="none"/><path d="M338.5 526L341.3 532.9L348.7 533.5L343.1 538.3L344.8 545.6L338.5 541.7L332.1 545.6L333.8 538.3L328.2 533.5L335.6 532.9Z"/><path d="M338.5 534.7L339 536.1L340.5 536.2L339.4 537.1L339.7 538.6L338.5 537.8L337.2 538.6L337.5 537.1L336.4 536.2L337.9 536.1Z" fill="#fff" stroke="none"/><path d="M337.9 528.6L340.7 535.5L348.1 536.1L342.5 540.9L344.2 548.2L337.9 544.3L331.5 548.2L333.2 540.9L327.6 536.1L335 535.5Z"/><path d="M337.9 537.3L338.4 538.6L339.9 538.7L338.8 539.7L339.1 541.2L337.9 540.4L336.6 541.2L336.9 539.7L335.8 538.7L337.3 538.6Z" fill="#fff" stroke="none"/><path d="M337.3 532.6L340.1 539.4L347.5 540L341.9 544.9L343.6 552.1L337.3 548.2L330.9 552.1L332.7 544.9L327 540L334.4 539.4Z"/><path d="M337.3 541.2L337.8 542.6L339.3 542.7L338.2 543.7L338.5 545.1L337.3 544.3L336 545.1L336.4 543.7L335.2 542.7L336.7 542.6Z" fill="#fff" stroke="none"/><path d="M336.7 536.8L339.5 543.7L347 544.3L341.3 549.2L343 556.4L336.7 552.5L330.3 556.4L332.1 549.2L326.4 544.3L333.8 543.7Z"/><path d="M336.7 545.5L337.3 546.9L338.7 547L337.6 547.9L338 549.4L336.7 548.6L335.4 549.4L335.8 547.9L334.6 547L336.1 546.9Z" fill="#fff" stroke="none"/><path d="M336.1 541.1L338.9 548L346.4 548.6L340.7 553.4L342.4 560.7L336.1 556.8L329.7 560.7L331.5 553.4L325.8 548.6L333.2 548Z"/><path d="M336.1 549.8L336.7 551.1L338.1 551.3L337 552.2L337.4 553.7L336.1 552.9L334.8 553.7L335.2 552.2L334 551.3L335.5 551.1Z" fill="#fff" stroke="none"/><path d="M335.5 545.4L338.4 552.3L345.8 552.9L340.1 557.7L341.8 565L335.5 561.1L329.2 565L330.9 557.7L325.2 552.9L332.6 552.3Z"/><path d="M335.5 554.1L336.1 555.4L337.6 555.6L336.4 556.5L336.8 558L335.5 557.2L334.2 558L334.6 556.5L333.4 555.6L334.9 555.4Z" fill="#fff" stroke="none"/><path d="M334.9 549.9L337.8 556.8L345.2 557.4L339.5 562.2L341.3 569.4L334.9 565.6L328.6 569.4L330.3 562.2L324.6 557.4L332.1 556.8Z"/><path d="M334.9 558.5L335.5 559.9L337 560L335.8 561L336.2 562.4L334.9 561.7L333.6 562.4L334 561L332.9 560L334.3 559.9Z" fill="#fff" stroke="none"/><path d="M334.3 555.1L337.2 562L344.6 562.6L338.9 567.4L340.7 574.7L334.3 570.8L328 574.7L329.7 567.4L324 562.6L331.5 562Z"/><path d="M334.3 563.8L334.9 565.2L336.4 565.3L335.2 566.2L335.6 567.7L334.3 566.9L333 567.7L333.4 566.2L332.3 565.3L333.7 565.2Z" fill="#fff" stroke="none"/><path d="M333.7 560.4L336.6 567.3L344 567.8L338.3 572.7L340.1 579.9L333.7 576L327.4 579.9L329.1 572.7L323.5 567.8L330.9 567.3Z"/><path d="M333.7 569L334.3 570.4L335.8 570.5L334.6 571.5L335 572.9L333.7 572.2L332.5 572.9L332.8 571.5L331.7 570.5L333.2 570.4Z" fill="#fff" stroke="none"/><path d="M333.1 565.6L336 572.5L343.4 573.1L337.8 577.9L339.5 585.2L333.1 581.3L326.8 585.2L328.5 577.9L322.9 573.1L330.3 572.5Z"/><path d="M333.1 574.3L333.7 575.6L335.2 575.8L334.1 576.7L334.4 578.2L333.1 577.4L331.9 578.2L332.2 576.7L331.1 575.8L332.6 575.6Z" fill="#fff" stroke="none"/><path d="M332.5 571L335.4 577.8L342.8 578.4L337.2 583.3L338.9 590.5L332.5 586.6L326.2 590.5L327.9 583.3L322.3 578.4L329.7 577.8Z"/><path d="M332.5 579.6L333.1 581L334.6 581.1L333.5 582.1L333.8 583.5L332.5 582.7L331.3 583.5L331.6 582.1L330.5 581.1L332 581Z" fill="#fff" stroke="none"/><path d="M331.9 576.8L334.8 583.6L342.2 584.2L336.6 589.1L338.3 596.3L331.9 592.4L325.6 596.3L327.3 589.1L321.7 584.2L329.1 583.6Z"/><path d="M331.9 585.4L332.5 586.8L334 586.9L332.9 587.9L333.2 589.3L331.9 588.5L330.7 589.3L331 587.9L329.9 586.9L331.4 586.8Z" fill="#fff" stroke="none"/><path d="M331.3 582.6L334.2 589.4L341.6 590L336 594.9L337.7 602.1L331.3 598.2L325 602.1L326.7 594.9L321.1 590L328.5 589.4Z"/><path d="M331.3 591.2L331.9 592.6L333.4 592.7L332.3 593.7L332.6 595.1L331.3 594.4L330.1 595.1L330.4 593.7L329.3 592.7L330.8 592.6Z" fill="#fff" stroke="none"/><path d="M330.8 588.4L333.6 595.3L341 595.9L335.4 600.7L337.1 607.9L330.8 604.1L324.4 607.9L326.1 600.7L320.5 595.9L327.9 595.3Z"/><path d="M330.8 597L331.3 598.4L332.8 598.5L331.7 599.5L332 600.9L330.8 600.2L329.5 600.9L329.8 599.5L328.7 598.5L330.2 598.4Z" fill="#fff" stroke="none"/><path d="M330.2 594.3L333 601.1L340.4 601.7L334.8 606.6L336.5 613.8L330.2 609.9L323.8 613.8L325.5 606.6L319.9 601.7L327.3 601.1Z"/><path d="M330.2 602.9L330.7 604.3L332.2 604.4L331.1 605.4L331.4 606.8L330.2 606L328.9 606.8L329.2 605.4L328.1 604.4L329.6 604.3Z" fill="#fff" stroke="none"/><path d="M329.6 601L332.4 607.9L339.8 608.5L334.2 613.3L335.9 620.6L329.6 616.7L323.2 620.6L324.9 613.3L319.3 608.5L326.7 607.9Z"/><path d="M329.6 609.7L330.1 611L331.6 611.2L330.5 612.1L330.8 613.6L329.6 612.8L328.3 613.6L328.6 612.1L327.5 611.2L329 611Z" fill="#fff" stroke="none"/><path d="M329 607.8L331.8 614.7L339.2 615.3L333.6 620.1L335.3 627.3L329 623.5L322.6 627.3L324.4 620.1L318.7 615.3L326.1 614.7Z"/><path d="M329 616.4L329.5 617.8L331 617.9L329.9 618.9L330.2 620.4L329 619.6L327.7 620.4L328.1 618.9L326.9 617.9L328.4 617.8Z" fill="#fff" stroke="none"/><path d="M328.4 614.6L331.2 621.4L338.7 622L333 626.9L334.7 634.1L328.4 630.2L322 634.1L323.8 626.9L318.1 622L325.5 621.4Z"/><path d="M328.4 623.2L329 624.6L330.4 624.7L329.3 625.7L329.7 627.1L328.4 626.4L327.1 627.1L327.5 625.7L326.3 624.7L327.8 624.6Z" fill="#fff" stroke="none"/><path d="M327.8 620.6L330.6 627.4L338.1 628L332.4 632.9L334.1 640.1L327.8 636.2L321.4 640.1L323.2 632.9L317.5 628L324.9 627.4Z"/><path d="M327.8 629.2L328.4 630.6L329.8 630.7L328.7 631.7L329.1 633.1L327.8 632.3L326.5 633.1L326.9 631.7L325.7 630.7L327.2 630.6Z" fill="#fff" stroke="none"/><path d="M327.2 625.7L330.1 632.6L337.5 633.2L331.8 638L333.5 645.3L327.2 641.4L320.9 645.3L322.6 638L316.9 633.2L324.3 632.6Z"/><path d="M327.2 634.4L327.8 635.7L329.3 635.9L328.1 636.8L328.5 638.3L327.2 637.5L325.9 638.3L326.3 636.8L325.1 635.9L326.6 635.7Z" fill="#fff" stroke="none"/><path d="M326.6 630.9L329.5 637.8L336.9 638.4L331.2 643.2L333 650.5L326.6 646.6L320.3 650.5L322 643.2L316.3 638.4L323.8 637.8Z"/><path d="M326.6 639.6L327.2 640.9L328.7 641L327.5 642L327.9 643.5L326.6 642.7L325.3 643.5L325.7 642L324.6 641L326 640.9Z" fill="#fff" stroke="none"/><path d="M326 636.1L328.9 643L336.3 643.6L330.6 648.4L332.4 655.6L326 651.8L319.7 655.6L321.4 648.4L315.7 643.6L323.2 643Z"/><path d="M326 644.7L326.6 646.1L328.1 646.2L326.9 647.2L327.3 648.6L326 647.9L324.7 648.6L325.1 647.2L324 646.2L325.4 646.1Z" fill="#fff" stroke="none"/><path d="M325.4 640.4L328.3 647.3L335.7 647.9L330 652.7L331.8 659.9L325.4 656.1L319.1 659.9L320.8 652.7L315.2 647.9L322.6 647.3Z"/><path d="M325.4 649L326 650.4L327.5 650.5L326.3 651.5L326.7 652.9L325.4 652.2L324.2 652.9L324.5 651.5L323.4 650.5L324.9 650.4Z" fill="#fff" stroke="none"/><path d="M324.8 643.4L327.7 650.3L335.1 650.8L329.5 655.7L331.2 662.9L324.8 659L318.5 662.9L320.2 655.7L314.6 650.8L322 650.3Z"/><path d="M324.8 652L325.4 653.4L326.9 653.5L325.8 654.5L326.1 655.9L324.8 655.2L323.6 655.9L323.9 654.5L322.8 653.5L324.3 653.4Z" fill="#fff" stroke="none"/><path d="M324.2 646.4L327.1 653.2L334.5 653.8L328.9 658.7L330.6 665.9L324.2 662L317.9 665.9L319.6 658.7L314 653.8L321.4 653.2Z"/><path d="M324.2 655L324.8 656.4L326.3 656.5L325.2 657.5L325.5 658.9L324.2 658.1L323 658.9L323.3 657.5L322.2 656.5L323.7 656.4Z" fill="#fff" stroke="none"/><path d="M323.6 648.8L326.5 655.7L333.9 656.3L328.3 661.1L330 668.4L323.6 664.5L317.3 668.4L319 661.1L313.4 656.3L320.8 655.7Z"/><path d="M323.6 657.5L324.2 658.9L325.7 659L324.6 659.9L324.9 661.4L323.6 660.6L322.4 661.4L322.7 659.9L321.6 659L323.1 658.9Z" fill="#fff" stroke="none"/><path d="M323.1 650.8L325.9 657.7L333.3 658.3L327.7 663.1L329.4 670.3L323.1 666.5L316.7 670.3L318.4 663.1L312.8 658.3L320.2 657.7Z"/><path d="M323.1 659.5L323.6 660.8L325.1 660.9L324 661.9L324.3 663.4L323.1 662.6L321.8 663.4L322.1 661.9L321 660.9L322.5 660.8Z" fill="#fff" stroke="none"/><path d="M322.5 652.8L325.3 659.6L332.7 660.2L327.1 665.1L328.8 672.3L322.5 668.4L316.1 672.3L317.8 665.1L312.2 660.2L319.6 659.6Z"/><path d="M322.5 661.4L323 662.8L324.5 662.9L323.4 663.9L323.7 665.3L322.5 664.5L321.2 665.3L321.5 663.9L320.4 662.9L321.9 662.8Z" fill="#fff" stroke="none"/><path d="M321.9 654.7L324.7 661.6L332.1 662.2L326.5 667L328.2 674.3L321.9 670.4L315.5 674.3L317.2 667L311.6 662.2L319 661.6Z"/><path d="M321.9 663.4L322.4 664.8L323.9 664.9L322.8 665.8L323.1 667.3L321.9 666.5L320.6 667.3L320.9 665.8L319.8 664.9L321.3 664.8Z" fill="#fff" stroke="none"/><path d="M321.3 656.7L324.1 663.6L331.5 664.2L325.9 669L327.6 676.3L321.3 672.4L314.9 676.3L316.6 669L311 664.2L318.4 663.6Z"/><path d="M321.3 665.4L321.8 666.7L323.3 666.9L322.2 667.8L322.5 669.3L321.3 668.5L320 669.3L320.3 667.8L319.2 666.9L320.7 666.7Z" fill="#fff" stroke="none"/><path d="M320.7 658.7L323.5 665.6L330.9 666.2L325.3 671L327 678.2L320.7 674.4L314.3 678.2L316.1 671L310.4 666.2L317.8 665.6Z"/><path d="M320.7 667.3L321.2 668.7L322.7 668.8L321.6 669.8L321.9 671.2L320.7 670.5L319.4 671.2L319.8 669.8L318.6 668.8L320.1 668.7Z" fill="#fff" stroke="none"/><path d="M320.7 658.7L323.5 665.6L330.9 666.2L325.3 671L327 678.2L320.7 674.4L314.3 678.2L316.1 671L310.4 666.2L317.8 665.6Z"/><path d="M320.7 667.3L321.2 668.7L322.7 668.8L321.6 669.8L321.9 671.2L320.7 670.5L319.4 671.2L319.8 669.8L318.6 668.8L320.1 668.7Z" fill="#fff" stroke="none"/><path d="M319.2 658.7L322.1 665.6L329.5 666.2L323.8 671L325.5 678.2L319.2 674.4L312.8 678.2L314.6 671L308.9 666.2L316.3 665.6Z"/><path d="M319.2 667.3L319.8 668.7L321.3 668.8L320.1 669.8L320.5 671.2L319.2 670.5L317.9 671.2L318.3 669.8L317.1 668.8L318.6 668.7Z" fill="#fff" stroke="none"/><path d="M317.7 658.7L320.6 665.6L328 666.2L322.3 671L324.1 678.2L317.7 674.4L311.4 678.2L313.1 671L307.4 666.2L314.9 665.6Z"/><path d="M317.7 667.3L318.3 668.7L319.8 668.8L318.6 669.8L319 671.2L317.7 670.5L316.4 671.2L316.8 669.8L315.7 668.8L317.1 668.7Z" fill="#fff" stroke="none"/><path d="M316.2 658.7L319.1 665.6L326.5 666.2L320.9 671L322.6 678.2L316.2 674.4L309.9 678.2L311.6 671L306 666.2L313.4 665.6Z"/><path d="M316.2 667.3L316.8 668.7L318.3 668.8L317.2 669.8L317.5 671.2L316.2 670.5L315 671.2L315.3 669.8L314.2 668.8L315.7 668.7Z" fill="#fff" stroke="none"/><path d="M314.8 658.7L317.6 665.6L325 666.2L319.4 671L321.1 678.2L314.8 674.4L308.4 678.2L310.1 671L304.5 666.2L311.9 665.6Z"/><path d="M314.8 667.3L315.3 668.7L316.8 668.8L315.7 669.8L316 671.2L314.8 670.5L313.5 671.2L313.8 669.8L312.7 668.8L314.2 668.7Z" fill="#fff" stroke="none"/><path d="M313.3 658.7L316.1 665.6L323.5 666.2L317.9 671L319.6 678.2L313.3 674.4L306.9 678.2L308.6 671L303 666.2L310.4 665.6Z"/><path d="M313.3 667.3L313.8 668.7L315.3 668.8L314.2 669.8L314.5 671.2L313.3 670.5L312 671.2L312.3 669.8L311.2 668.8L312.7 668.7Z" fill="#fff" stroke="none"/><path d="M311.8 658.7L314.6 665.6L322.1 666.2L316.4 671L318.1 678.2L311.8 674.4L305.4 678.2L307.2 671L301.5 666.2L308.9 665.6Z"/><path d="M311.8 667.3L312.4 668.7L313.8 668.8L312.7 669.8L313.1 671.2L311.8 670.5L310.5 671.2L310.9 669.8L309.7 668.8L311.2 668.7Z" fill="#fff" stroke="none"/><path d="M310.3 658.7L313.2 665.6L320.6 666.2L314.9 671L316.7 678.2L310.3 674.4L304 678.2L305.7 671L300 666.2L307.4 665.6Z"/><path d="M310.3 667.3L310.9 668.7L312.4 668.8L311.2 669.8L311.6 671.2L310.3 670.5L309 671.2L309.4 669.8L308.2 668.8L309.7 668.7Z" fill="#fff" stroke="none"/><path d="M308.8 658.7L311.7 665.6L319.1 666.2L313.4 671L315.2 678.2L308.8 674.4L302.5 678.2L304.2 671L298.6 666.2L306 665.6Z"/><path d="M308.8 667.3L309.4 668.7L310.9 668.8L309.7 669.8L310.1 671.2L308.8 670.5L307.6 671.2L307.9 669.8L306.8 668.8L308.3 668.7Z" fill="#fff" stroke="none"/><path d="M307.3 658.7L310.2 665.6L317.6 666.2L312 671L313.7 678.2L307.3 674.4L301 678.2L302.7 671L297.1 666.2L304.5 665.6Z"/><path d="M307.3 667.3L307.9 668.7L309.4 668.8L308.3 669.8L308.6 671.2L307.3 670.5L306.1 671.2L306.4 669.8L305.3 668.8L306.8 668.7Z" fill="#fff" stroke="none"/><path d="M305.9 658.7L308.7 665.6L316.1 666.2L310.5 671L312.2 678.2L305.9 674.4L299.5 678.2L301.2 671L295.6 666.2L303 665.6Z"/><path d="M305.9 667.3L306.4 668.7L307.9 668.8L306.8 669.8L307.1 671.2L305.9 670.5L304.6 671.2L304.9 669.8L303.8 668.8L305.3 668.7Z" fill="#fff" stroke="none"/><path d="M304.4 658.7L307.2 665.6L314.6 666.2L309 671L310.7 678.2L304.4 674.4L298 678.2L299.8 671L294.1 666.2L301.5 665.6Z"/><path d="M304.4 667.3L304.9 668.7L306.4 668.8L305.3 669.8L305.6 671.2L304.4 670.5L303.1 671.2L303.5 669.8L302.3 668.8L303.8 668.7Z" fill="#fff" stroke="none"/><path d="M302.9 658.7L305.7 665.6L313.2 666.2L307.5 671L309.2 678.2L302.9 674.4L296.5 678.2L298.3 671L292.6 666.2L300 665.6Z"/><path d="M302.9 667.3L303.5 668.7L304.9 668.8L303.8 669.8L304.2 671.2L302.9 670.5L301.6 671.2L302 669.8L300.8 668.8L302.3 668.7Z" fill="#fff" stroke="none"/><path d="M301.4 658.7L304.3 665.6L311.7 666.2L306 671L307.8 678.2L301.4 674.4L295.1 678.2L296.8 671L291.1 666.2L298.6 665.6Z"/><path d="M301.4 667.3L302 668.7L303.5 668.8L302.3 669.8L302.7 671.2L301.4 670.5L300.1 671.2L300.5 669.8L299.4 668.8L300.8 668.7Z" fill="#fff" stroke="none"/><path d="M299.9 658.7L302.8 665.6L310.2 666.2L304.6 671L306.3 678.2L299.9 674.4L293.6 678.2L295.3 671L289.7 666.2L297.1 665.6Z"/><path d="M299.9 667.3L300.5 668.7L302 668.8L300.9 669.8L301.2 671.2L299.9 670.5L298.7 671.2L299 669.8L297.9 668.8L299.4 668.7Z" fill="#fff" stroke="none"/><path d="M298.4 658.7L301.3 665.6L308.7 666.2L303.1 671L304.8 678.2L298.4 674.4L292.1 678.2L293.8 671L288.2 666.2L295.6 665.6Z"/><path d="M298.4 667.3L299 668.7L300.5 668.8L299.4 669.8L299.7 671.2L298.4 670.5L297.2 671.2L297.5 669.8L296.4 668.8L297.9 668.7Z" fill="#fff" stroke="none"/><path d="M297 658.7L299.8 665.6L307.2 666.2L301.6 671L303.3 678.2L297 674.4L290.6 678.2L292.3 671L286.7 666.2L294.1 665.6Z"/><path d="M297 667.3L297.5 668.7L299 668.8L297.9 669.8L298.2 671.2L297 670.5L295.7 671.2L296 669.8L294.9 668.8L296.4 668.7Z" fill="#fff" stroke="none"/><path d="M295.5 658.7L298.3 665.6L305.8 666.2L300.1 671L301.8 678.2L295.5 674.4L289.1 678.2L290.9 671L285.2 666.2L292.6 665.6Z"/><path d="M295.5 667.3L296.1 668.7L297.5 668.8L296.4 669.8L296.8 671.2L295.5 670.5L294.2 671.2L294.6 669.8L293.4 668.8L294.9 668.7Z" fill="#fff" stroke="none"/><path d="M294 658.7L296.9 665.6L304.3 666.2L298.6 671L300.3 678.2L294 674.4L287.7 678.2L289.4 671L283.7 666.2L291.1 665.6Z"/><path d="M294 667.3L294.6 668.7L296.1 668.8L294.9 669.8L295.3 671.2L294 670.5L292.7 671.2L293.1 669.8L291.9 668.8L293.4 668.7Z" fill="#fff" stroke="none"/><path d="M292.5 658.7L295.4 665.6L302.8 666.2L297.1 671L298.9 678.2L292.5 674.4L286.2 678.2L287.9 671L282.2 666.2L289.7 665.6Z"/><path d="M292.5 667.3L293.1 668.7L294.6 668.8L293.4 669.8L293.8 671.2L292.5 670.5L291.2 671.2L291.6 669.8L290.5 668.8L291.9 668.7Z" fill="#fff" stroke="none"/><path d="M291 658.7L293.9 665.6L301.3 666.2L295.7 671L297.4 678.2L291 674.4L284.7 678.2L286.4 671L280.8 666.2L288.2 665.6Z"/><path d="M291 667.3L291.6 668.7L293.1 668.8L292 669.8L292.3 671.2L291 670.5L289.8 671.2L290.1 669.8L289 668.8L290.5 668.7Z" fill="#fff" stroke="none"/><path d="M289.6 658.7L292.4 665.6L299.8 666.2L294.2 671L295.9 678.2L289.6 674.4L283.2 678.2L284.9 671L279.3 666.2L286.7 665.6Z"/><path d="M289.6 667.3L290.1 668.7L291.6 668.8L290.5 669.8L290.8 671.2L289.6 670.5L288.3 671.2L288.6 669.8L287.5 668.8L289 668.7Z" fill="#fff" stroke="none"/><path d="M288.1 658.7L290.9 665.6L298.3 666.2L292.7 671L294.4 678.2L288.1 674.4L281.7 678.2L283.4 671L277.8 666.2L285.2 665.6Z"/><path d="M288.1 667.3L288.6 668.7L290.1 668.8L289 669.8L289.3 671.2L288.1 670.5L286.8 671.2L287.1 669.8L286 668.8L287.5 668.7Z" fill="#fff" stroke="none"/><path d="M286.6 658.7L289.4 665.6L296.9 666.2L291.2 671L292.9 678.2L286.6 674.4L280.2 678.2L282 671L276.3 666.2L283.7 665.6Z"/><path d="M286.6 667.3L287.2 668.7L288.6 668.8L287.5 669.8L287.9 671.2L286.6 670.5L285.3 671.2L285.7 669.8L284.5 668.8L286 668.7Z" fill="#fff" stroke="none"/><path d="M285.1 658.7L288 665.6L295.4 666.2L289.7 671L291.5 678.2L285.1 674.4L278.8 678.2L280.5 671L274.8 666.2L282.3 665.6Z"/><path d="M285.1 667.3L285.7 668.7L287.2 668.8L286 669.8L286.4 671.2L285.1 670.5L283.8 671.2L284.2 669.8L283.1 668.8L284.5 668.7Z" fill="#fff" stroke="none"/><path d="M283.6 658.7L286.5 665.6L293.9 666.2L288.2 671L290 678.2L283.6 674.4L277.3 678.2L279 671L273.4 666.2L280.8 665.6Z"/><path d="M283.6 667.3L284.2 668.7L285.7 668.8L284.5 669.8L284.9 671.2L283.6 670.5L282.4 671.2L282.7 669.8L281.6 668.8L283.1 668.7Z" fill="#fff" stroke="none"/><path d="M282.1 658.7L285 665.6L292.4 666.2L286.8 671L288.5 678.2L282.1 674.4L275.8 678.2L277.5 671L271.9 666.2L279.3 665.6Z"/><path d="M282.1 667.3L282.7 668.7L284.2 668.8L283.1 669.8L283.4 671.2L282.1 670.5L280.9 671.2L281.2 669.8L280.1 668.8L281.6 668.7Z" fill="#fff" stroke="none"/><path d="M280.7 658.7L283.5 665.6L290.9 666.2L285.3 671L287 678.2L280.7 674.4L274.3 678.2L276 671L270.4 666.2L277.8 665.6Z"/><path d="M280.7 667.3L281.2 668.7L282.7 668.8L281.6 669.8L281.9 671.2L280.7 670.5L279.4 671.2L279.7 669.8L278.6 668.8L280.1 668.7Z" fill="#fff" stroke="none"/><path d="M279.2 658.7L282 665.6L289.4 666.2L283.8 671L285.5 678.2L279.2 674.4L272.8 678.2L274.6 671L268.9 666.2L276.3 665.6Z"/><path d="M279.2 667.3L279.7 668.7L281.2 668.8L280.1 669.8L280.4 671.2L279.2 670.5L277.9 671.2L278.3 669.8L277.1 668.8L278.6 668.7Z" fill="#fff" stroke="none"/><path d="M277.7 658.7L280.6 665.6L288 666.2L282.3 671L284 678.2L277.7 674.4L271.3 678.2L273.1 671L267.4 666.2L274.8 665.6Z"/><path d="M277.7 667.3L278.3 668.7L279.8 668.8L278.6 669.8L279 671.2L277.7 670.5L276.4 671.2L276.8 669.8L275.6 668.8L277.1 668.7Z" fill="#fff" stroke="none"/><path d="M276.2 658.7L279.1 665.6L286.5 666.2L280.8 671L282.6 678.2L276.2 674.4L269.9 678.2L271.6 671L265.9 666.2L273.4 665.6Z"/><path d="M276.2 667.3L276.8 668.7L278.3 668.8L277.1 669.8L277.5 671.2L276.2 670.5L274.9 671.2L275.3 669.8L274.2 668.8L275.6 668.7Z" fill="#fff" stroke="none"/><path d="M274.7 658.7L277.6 665.6L285 666.2L279.4 671L281.1 678.2L274.7 674.4L268.4 678.2L270.1 671L264.5 666.2L271.9 665.6Z"/><path d="M274.7 667.3L275.3 668.7L276.8 668.8L275.7 669.8L276 671.2L274.7 670.5L273.5 671.2L273.8 669.8L272.7 668.8L274.2 668.7Z" fill="#fff" stroke="none"/><path d="M273.2 658.7L276.1 665.6L283.5 666.2L277.9 671L279.6 678.2L273.2 674.4L266.9 678.2L268.6 671L263 666.2L270.4 665.6Z"/><path d="M273.2 667.3L273.8 668.7L275.3 668.8L274.2 669.8L274.5 671.2L273.2 670.5L272 671.2L272.3 669.8L271.2 668.8L272.7 668.7Z" fill="#fff" stroke="none"/><path d="M271.8 658.7L274.6 665.6L282 666.2L276.4 671L278.1 678.2L271.8 674.4L265.4 678.2L267.1 671L261.5 666.2L268.9 665.6Z"/><path d="M271.8 667.3L272.3 668.7L273.8 668.8L272.7 669.8L273 671.2L271.8 670.5L270.5 671.2L270.8 669.8L269.7 668.8L271.2 668.7Z" fill="#fff" stroke="none"/><path d="M270.3 658.7L273.1 665.6L280.6 666.2L274.9 671L276.6 678.2L270.3 674.4L263.9 678.2L265.7 671L260 666.2L267.4 665.6Z"/><path d="M270.3 667.3L270.9 668.7L272.3 668.8L271.2 669.8L271.6 671.2L270.3 670.5L269 671.2L269.4 669.8L268.2 668.8L269.7 668.7Z" fill="#fff" stroke="none"/><path d="M268.8 658.7L271.7 665.6L279.1 666.2L273.4 671L275.2 678.2L268.8 674.4L262.5 678.2L264.2 671L258.5 666.2L265.9 665.6Z"/><path d="M268.8 667.3L269.4 668.7L270.9 668.8L269.7 669.8L270.1 671.2L268.8 670.5L267.5 671.2L267.9 669.8L266.7 668.8L268.2 668.7Z" fill="#fff" stroke="none"/><path d="M267.3 658.7L270.2 665.6L277.6 666.2L271.9 671L273.7 678.2L267.3 674.4L261 678.2L262.7 671L257.1 666.2L264.5 665.6Z"/><path d="M267.3 667.3L267.9 668.7L269.4 668.8L268.2 669.8L268.6 671.2L267.3 670.5L266.1 671.2L266.4 669.8L265.3 668.8L266.8 668.7Z" fill="#fff" stroke="none"/><path d="M265.8 658.7L268.7 665.6L276.1 666.2L270.5 671L272.2 678.2L265.8 674.4L259.5 678.2L261.2 671L255.6 666.2L263 665.6Z"/><path d="M265.8 667.3L266.4 668.7L267.9 668.8L266.8 669.8L267.1 671.2L265.8 670.5L264.6 671.2L264.9 669.8L263.8 668.8L265.3 668.7Z" fill="#fff" stroke="none"/><path d="M264.4 658.7L267.2 665.6L274.6 666.2L269 671L270.7 678.2L264.4 674.4L258 678.2L259.7 671L254.1 666.2L261.5 665.6Z"/><path d="M264.4 667.3L264.9 668.7L266.4 668.8L265.3 669.8L265.6 671.2L264.4 670.5L263.1 671.2L263.4 669.8L262.3 668.8L263.8 668.7Z" fill="#fff" stroke="none"/><path d="M262.9 658.7L265.7 665.6L273.1 666.2L267.5 671L269.2 678.2L262.9 674.4L256.5 678.2L258.3 671L252.6 666.2L260 665.6Z"/><path d="M262.9 667.3L263.4 668.7L264.9 668.8L263.8 669.8L264.1 671.2L262.9 670.5L261.6 671.2L262 669.8L260.8 668.8L262.3 668.7Z" fill="#fff" stroke="none"/><path d="M261.4 658.7L264.2 665.6L271.7 666.2L266 671L267.7 678.2L261.4 674.4L255 678.2L256.8 671L251.1 666.2L258.5 665.6Z"/><path d="M261.4 667.3L262 668.7L263.4 668.8L262.3 669.8L262.7 671.2L261.4 670.5L260.1 671.2L260.5 669.8L259.3 668.8L260.8 668.7Z" fill="#fff" stroke="none"/></g>
<path d="M306.9 669.5L307.5 669.5L308.1 669.5L308.7 669.5L309.3 669.5L309.9 669.5L310.5 669.5L311 669.5L311.6 669.5L312.2 669.5L312.8 669.5L313.4 669.5L314 669.5L314.6 669.5L315.2 669.5L315.8 669.5L316.4 669.5L317 669.5L317.6 669.5L318.2 669.5L318.8 669.5L319.3 669.5L319.9 669.5L320.5 669.5L321.1 669.5L321.7 669.5L322.3 669.5L322.9 669.5L323.5 669.5L324.1 669.5L324.7 669.5L325.3 669.5L325.9 669.5L326.5 669.5L327.1 669.5L327.6 669.5L328.2 669.5L328.8 669.5L329.4 669.5L330 669.5L330.6 668.1L331.3 661.3L331.9 653.2L332.6 646.2L333.2 639.5L333.9 632.7L334.5 625.2L335.2 617L335.8 608.9L336.5 600.7L337.1 592.3L337.8 583.8L338.4 576.3L339.1 569.2L339.7 562.2L340.4 555.2L341 548.8L341.7 543.1L342.3 537.5L343 532.1L343.7 526.7L344.3 522.2L345 518.1L345.6 514.4L346.3 511.8L346.9 509.3L347.6 507.3L348.2 505.4L348.9 504.2L349.5 503L350.2 502.2L350.8 501.6" stroke="#1F4E8F" stroke-width="2" fill="none" stroke-linejoin="round"/>
<g fill="#fff" stroke="#1F4E8F" stroke-width="3" stroke-linejoin="miter" stroke-miterlimit="10"><path d="M350.8 494.9L358.7 508.3L342.9 508.3Z"/><path d="M350.2 495.5L358.1 508.9L342.3 508.9Z"/><path d="M349.5 496.3L357.4 509.7L341.6 509.7Z"/><path d="M348.9 497.5L356.8 510.9L341 510.9Z"/><path d="M348.2 498.7L356.1 512.1L340.3 512.1Z"/><path d="M347.6 500.6L355.5 514L339.7 514Z"/><path d="M346.9 502.6L354.8 516L339 516Z"/><path d="M346.3 505.1L354.2 518.5L338.4 518.5Z"/><path d="M345.6 507.7L353.5 521.1L337.7 521.1Z"/><path d="M345 511.4L352.9 524.8L337.1 524.8Z"/><path d="M344.3 515.5L352.2 528.9L336.4 528.9Z"/><path d="M343.7 520L351.6 533.4L335.8 533.4Z"/><path d="M343 525.4L350.9 538.8L335.1 538.8Z"/><path d="M342.3 530.8L350.2 544.2L334.4 544.2Z"/><path d="M341.7 536.4L349.6 549.8L333.8 549.8Z"/><path d="M341 542.1L348.9 555.5L333.1 555.5Z"/><path d="M340.4 548.5L348.3 561.9L332.5 561.9Z"/><path d="M339.7 555.5L347.6 568.9L331.8 568.9Z"/><path d="M339.1 562.5L347 575.9L331.2 575.9Z"/><path d="M338.4 569.6L346.3 583L330.5 583Z"/><path d="M337.8 577.1L345.7 590.5L329.9 590.5Z"/><path d="M337.1 585.6L345 599L329.2 599Z"/><path d="M336.5 594L344.4 607.4L328.6 607.4Z"/><path d="M335.8 602.2L343.7 615.6L327.9 615.6Z"/><path d="M335.2 610.3L343.1 623.7L327.3 623.7Z"/><path d="M334.5 618.5L342.4 631.9L326.6 631.9Z"/><path d="M333.9 626L341.8 639.4L326 639.4Z"/><path d="M333.2 632.8L341.1 646.2L325.3 646.2Z"/><path d="M332.6 639.5L340.5 652.9L324.7 652.9Z"/><path d="M331.9 646.5L339.8 659.9L324 659.9Z"/><path d="M331.3 654.6L339.2 668L323.4 668Z"/><path d="M330.6 661.4L338.5 674.8L322.7 674.8Z"/><path d="M330 662.8L337.9 676.2L322.1 676.2Z"/><path d="M329.4 662.8L337.3 676.2L321.5 676.2Z"/><path d="M328.8 662.8L336.7 676.2L320.9 676.2Z"/><path d="M328.2 662.8L336.1 676.2L320.3 676.2Z"/><path d="M327.6 662.8L335.5 676.2L319.7 676.2Z"/><path d="M327.1 662.8L335 676.2L319.2 676.2Z"/><path d="M326.5 662.8L334.4 676.2L318.6 676.2Z"/><path d="M325.9 662.8L333.8 676.2L318 676.2Z"/><path d="M325.3 662.8L333.2 676.2L317.4 676.2Z"/><path d="M324.7 662.8L332.6 676.2L316.8 676.2Z"/><path d="M324.1 662.8L332 676.2L316.2 676.2Z"/><path d="M323.5 662.8L331.4 676.2L315.6 676.2Z"/><path d="M322.9 662.8L330.8 676.2L315 676.2Z"/><path d="M322.3 662.8L330.2 676.2L314.4 676.2Z"/><path d="M321.7 662.8L329.6 676.2L313.8 676.2Z"/><path d="M321.1 662.8L329 676.2L313.2 676.2Z"/><path d="M320.5 662.8L328.4 676.2L312.6 676.2Z"/><path d="M319.9 662.8L327.8 676.2L312 676.2Z"/><path d="M319.3 662.8L327.2 676.2L311.4 676.2Z"/><path d="M318.8 662.8L326.7 676.2L310.9 676.2Z"/><path d="M318.2 662.8L326.1 676.2L310.3 676.2Z"/><path d="M317.6 662.8L325.5 676.2L309.7 676.2Z"/><path d="M317 662.8L324.9 676.2L309.1 676.2Z"/><path d="M316.4 662.8L324.3 676.2L308.5 676.2Z"/><path d="M315.8 662.8L323.7 676.2L307.9 676.2Z"/><path d="M315.2 662.8L323.1 676.2L307.3 676.2Z"/><path d="M314.6 662.8L322.5 676.2L306.7 676.2Z"/><path d="M314 662.8L321.9 676.2L306.1 676.2Z"/><path d="M313.4 662.8L321.3 676.2L305.5 676.2Z"/><path d="M312.8 662.8L320.7 676.2L304.9 676.2Z"/><path d="M312.2 662.8L320.1 676.2L304.3 676.2Z"/><path d="M311.6 662.8L319.5 676.2L303.7 676.2Z"/><path d="M311 662.8L318.9 676.2L303.1 676.2Z"/><path d="M310.5 662.8L318.4 676.2L302.6 676.2Z"/><path d="M309.9 662.8L317.8 676.2L302 676.2Z"/><path d="M309.3 662.8L317.2 676.2L301.4 676.2Z"/><path d="M308.7 662.8L316.6 676.2L300.8 676.2Z"/><path d="M308.1 662.8L316 676.2L300.2 676.2Z"/><path d="M307.5 662.8L315.4 676.2L299.6 676.2Z"/><path d="M306.9 662.8L314.8 676.2L299 676.2Z"/></g>
<path d="M320.7 669.5L321.5 669.5L322.3 669.5L323.2 669.5L324 669.5L324.8 669.5L325.7 669.5L326.5 669.5L327.3 669.5L328.1 669.5L329 669.5L329.8 669.5L330.6 669.5L331.5 669.5L332.3 669.5L333.1 669.5L334 669.5L334.8 669.5L335.6 669.5L336.4 669.5L337.3 669.5L338.2 657.8L338.9 649.8L339.7 636.8L340.4 621.6L341.2 603L341.7 585.4L342.3 570.5L342.9 556.4L343.7 543.6L344.3 533L345 524.3L345.7 516.8L346.5 510.9L347.4 506.6L348.2 503.1L349.1 500.5L350 498.9" stroke="#5A2D6E" stroke-width="2" fill="none" stroke-linejoin="round"/>
<path d="M344 498.9H356M350 492.9V504.9M345.8 494.7L354.2 503.1M345.8 503.1L354.2 494.7M343.1 500.5H355.1M349.1 494.5V506.5M344.9 496.3L353.3 504.7M344.9 504.7L353.3 496.3M342.2 503.1H354.2M348.2 497.1V509.1M344 498.9L352.4 507.3M344 507.3L352.4 498.9M341.4 506.6H353.4M347.4 500.6V512.6M343.2 502.4L351.6 510.8M343.2 510.8L351.6 502.4M340.5 510.9H352.5M346.5 504.9V516.9M342.3 506.7L350.7 515.1M342.3 515.1L350.7 506.7M339.7 516.8H351.7M345.7 510.8V522.8M341.5 512.5L349.9 521M341.5 521L349.9 512.5M339 524.3H351M345 518.3V530.3M340.8 520.1L349.2 528.5M340.8 528.5L349.2 520.1M338.3 533H350.3M344.3 527V539M340.1 528.8L348.5 537.2M340.1 537.2L348.5 528.8M337.7 543.6H349.7M343.7 537.6V549.6M339.5 539.4L347.9 547.8M339.5 547.8L347.9 539.4M336.9 556.4H348.9M342.9 550.4V562.4M338.7 552.2L347.1 560.6M338.7 560.6L347.1 552.2M336.3 570.5H348.3M342.3 564.5V576.5M338.1 566.3L346.5 574.7M338.1 574.7L346.5 566.3M335.7 585.4H347.7M341.7 579.4V591.4M337.5 581.2L345.9 589.6M337.5 589.6L345.9 581.2M335.2 603H347.2M341.2 597V609M337 598.8L345.4 607.2M337 607.2L345.4 598.8M334.4 621.6H346.4M340.4 615.6V627.6M336.2 617.4L344.6 625.8M336.2 625.8L344.6 617.4M333.7 636.8H345.7M339.7 630.8V642.8M335.5 632.6L343.9 641M335.5 641L343.9 632.6M332.9 649.8H344.9M338.9 643.8V655.8M334.7 645.6L343.1 654M334.7 654L343.1 645.6M332.2 657.8H344.2M338.2 651.8V663.8M334 653.6L342.4 662M334 662L342.4 653.6M331.3 669.5H343.3M337.3 663.5V675.5M333.1 665.3L341.5 673.7M333.1 673.7L341.5 665.3M330.4 669.5H342.4M336.4 663.5V675.5M332.2 665.3L340.6 673.7M332.2 673.7L340.6 665.3M329.6 669.5H341.6M335.6 663.5V675.5M331.4 665.3L339.8 673.7M331.4 673.7L339.8 665.3M328.8 669.5H340.8M334.8 663.5V675.5M330.6 665.3L339 673.7M330.6 673.7L339 665.3M328 669.5H340M334 663.5V675.5M329.8 665.3L338.2 673.7M329.8 673.7L338.2 665.3M327.1 669.5H339.1M333.1 663.5V675.5M328.9 665.3L337.3 673.7M328.9 673.7L337.3 665.3M326.3 669.5H338.3M332.3 663.5V675.5M328.1 665.3L336.5 673.7M328.1 673.7L336.5 665.3M325.5 669.5H337.5M331.5 663.5V675.5M327.3 665.3L335.7 673.7M327.3 673.7L335.7 665.3M324.6 669.5H336.6M330.6 663.5V675.5M326.4 665.3L334.8 673.7M326.4 673.7L334.8 665.3M323.8 669.5H335.8M329.8 663.5V675.5M325.6 665.3L334 673.7M325.6 673.7L334 665.3M323 669.5H335M329 663.5V675.5M324.8 665.3L333.2 673.7M324.8 673.7L333.2 665.3M322.1 669.5H334.1M328.1 663.5V675.5M323.9 665.3L332.3 673.7M323.9 673.7L332.3 665.3M321.3 669.5H333.3M327.3 663.5V675.5M323.1 665.3L331.5 673.7M323.1 673.7L331.5 665.3M320.5 669.5H332.5M326.5 663.5V675.5M322.3 665.3L330.7 673.7M322.3 673.7L330.7 665.3M319.7 669.5H331.7M325.7 663.5V675.5M321.5 665.3L329.9 673.7M321.5 673.7L329.9 665.3M318.8 669.5H330.8M324.8 663.5V675.5M320.6 665.3L329 673.7M320.6 673.7L329 665.3M318 669.5H330M324 663.5V675.5M319.8 665.3L328.2 673.7M319.8 673.7L328.2 665.3M317.2 669.5H329.2M323.2 663.5V675.5M319 665.3L327.4 673.7M319 673.7L327.4 665.3M316.3 669.5H328.3M322.3 663.5V675.5M318.1 665.3L326.5 673.7M318.1 673.7L326.5 665.3M315.5 669.5H327.5M321.5 663.5V675.5M317.3 665.3L325.7 673.7M317.3 673.7L325.7 665.3M314.7 669.5H326.7M320.7 663.5V675.5M316.5 665.3L324.9 673.7M316.5 673.7L324.9 665.3" stroke="#5A2D6E" stroke-width="3" fill="none" stroke-linecap="butt"/>
<path d="M320.7 669.5L321.6 669.5L322.5 669.5L323.3 669.5L324.2 669.5L325.1 669.5L326 669.5L326.9 669.5L327.8 669.5L328.7 669.5L329.6 669.5L330.5 669.5L331.3 669.5L332.2 669.5L333.1 669.5L334 669.5L334.9 669.5L335.8 669.5L336.7 669.5L337.6 669.5L338.5 669.5L339.4 669.5L340.2 665.6L340.7 660.2L341.7 646.3L342.2 630.9L342.7 611.2L343.4 582L343.9 563.3L344.5 546L344.9 525L346.2 512.2L347.7 506.4L349.2 501.6L350.4 499.2" stroke="#A00000" stroke-width="2" fill="none" stroke-linejoin="round"/>
<g fill="#fff" stroke="#A00000" stroke-width="3" stroke-linejoin="miter" stroke-miterlimit="10"><path d="M344.4 499.2L356.4 492L356.4 506.5Z"/><path d="M343.2 501.6L355.2 494.3L355.2 508.8Z"/><path d="M341.7 506.4L353.7 499.1L353.7 513.6Z"/><path d="M340.2 512.2L352.2 505L352.2 519.5Z"/><path d="M338.9 525L350.9 517.7L350.9 532.2Z"/><path d="M338.5 546L350.5 538.8L350.5 553.2Z"/><path d="M337.9 563.3L349.9 556.1L349.9 570.6Z"/><path d="M337.4 582L349.4 574.7L349.4 589.2Z"/><path d="M336.7 611.2L348.7 604L348.7 618.5Z"/><path d="M336.2 630.9L348.2 623.7L348.2 638.2Z"/><path d="M335.7 646.3L347.7 639.1L347.7 653.6Z"/><path d="M334.7 660.2L346.7 652.9L346.7 667.4Z"/><path d="M334.2 665.6L346.2 658.4L346.2 672.9Z"/><path d="M333.4 669.5L345.4 662.2L345.4 676.8Z"/><path d="M332.5 669.5L344.5 662.2L344.5 676.8Z"/><path d="M331.6 669.5L343.6 662.2L343.6 676.8Z"/><path d="M330.7 669.5L342.7 662.2L342.7 676.8Z"/><path d="M329.8 669.5L341.8 662.2L341.8 676.8Z"/><path d="M328.9 669.5L340.9 662.2L340.9 676.8Z"/><path d="M328 669.5L340 662.2L340 676.8Z"/><path d="M327.1 669.5L339.1 662.2L339.1 676.8Z"/><path d="M326.2 669.5L338.2 662.2L338.2 676.8Z"/><path d="M325.3 669.5L337.3 662.2L337.3 676.8Z"/><path d="M324.5 669.5L336.5 662.2L336.5 676.8Z"/><path d="M323.6 669.5L335.6 662.2L335.6 676.8Z"/><path d="M322.7 669.5L334.7 662.2L334.7 676.8Z"/><path d="M321.8 669.5L333.8 662.2L333.8 676.8Z"/><path d="M320.9 669.5L332.9 662.2L332.9 676.8Z"/><path d="M320 669.5L332 662.2L332 676.8Z"/><path d="M319.1 669.5L331.1 662.2L331.1 676.8Z"/><path d="M318.2 669.5L330.2 662.2L330.2 676.8Z"/><path d="M317.3 669.5L329.3 662.2L329.3 676.8Z"/><path d="M316.5 669.5L328.5 662.2L328.5 676.8Z"/><path d="M315.6 669.5L327.6 662.2L327.6 676.8Z"/><path d="M314.7 669.5L326.7 662.2L326.7 676.8Z"/></g>
<path d="M128 631.7L958.4 65.4" stroke="#0000ff" stroke-width="5.6" clip-path="url(#ca)"/>
<g>
<text transform="translate(216.9,713.5) scale(1,1.1)" font-size="31" text-anchor="middle">50</text>
<text transform="translate(365.1,713.5) scale(1,1.1)" font-size="31" text-anchor="middle">100</text>
<text transform="translate(513.4,713.5) scale(1,1.1)" font-size="31" text-anchor="middle">150</text>
<text transform="translate(661.6,713.5) scale(1,1.1)" font-size="31" text-anchor="middle">200</text>
<text transform="translate(809.8,713.5) scale(1,1.1)" font-size="31" text-anchor="middle">250</text>
<text transform="translate(958,713.5) scale(1,1.1)" font-size="31" text-anchor="middle">300</text>
<text transform="translate(116.4,682.9) scale(1,1.1)" font-size="31" text-anchor="end">0</text>
<text transform="translate(116.4,574.6) scale(1,1.1)" font-size="31" text-anchor="end">50</text>
<text transform="translate(116.4,466.2) scale(1,1.1)" font-size="31" text-anchor="end">100</text>
<text transform="translate(116.4,357.9) scale(1,1.1)" font-size="31" text-anchor="end">150</text>
<text transform="translate(116.4,249.6) scale(1,1.1)" font-size="31" text-anchor="end">200</text>
<text transform="translate(116.4,141.2) scale(1,1.1)" font-size="31" text-anchor="end">250</text>
<text transform="translate(116.4,32.9) scale(1,1.1)" font-size="31" text-anchor="end">300</text>
</g>
<text transform="translate(543.7,756) scale(1,1.1)" font-size="31" text-anchor="middle"><tspan font-style="italic">T</tspan> (K)</text>
<text transform="translate(49.3,346.5) rotate(-90) scale(1,1.1)" font-size="30.3" text-anchor="middle"><tspan font-style="italic">ρ</tspan> (μΩcm)</text>
<rect x="595.8" y="366.6" width="334.8" height="262.4" fill="#fff"/>
<path d="M679.5 366.6V629M763.2 366.6V629M846.9 366.6V629M595.8 576.5H930.6M595.8 524H930.6M595.8 471.6H930.6M595.8 419.1H930.6" stroke="#dedede" stroke-width="1.4" fill="none"/>
<path d="M595.8 366.6H930.6V629H595.8ZM595.8 629V624M595.8 366.6V371.6M679.5 629V624M679.5 366.6V371.6M763.2 629V624M763.2 366.6V371.6M846.9 629V624M846.9 366.6V371.6M930.6 629V624M930.6 366.6V371.6M595.8 629H600.8M930.6 629H925.6M595.8 576.5H600.8M930.6 576.5H925.6M595.8 524H600.8M930.6 524H925.6M595.8 471.6H600.8M930.6 471.6H925.6M595.8 419.1H600.8M930.6 419.1H925.6M595.8 366.6H600.8M930.6 366.6H925.6" stroke="#262626" stroke-width="1.6" fill="none"/>
<g clip-path="url(#ci)"><path d="M596.6 629L601.7 629L606.7 629L611.7 629L616.7 629L621.7 629L626.8 629L631.8 629L636.8 629L641.8 629L646.9 629L651.9 629L656.9 629L661.9 629L666.9 629L672 629L677 629L682 629L687 629L692.1 629L697.1 629L702.1 629L707.1 629L712.1 629L717.2 629L722.2 629L727.2 629L732.2 629L737.3 629L742.3 629L747.3 629L752.3 629L757.3 629L762.4 629L767.4 629L772.4 629L777.4 629L782.5 629L787.5 629L792.5 629L795 629L796.6 629L798.2 629L799.7 629L801.3 629L802.9 629L804.4 629L806 629L807.6 629L809.2 629L810.7 629L812.3 629L813.9 629L815.5 629L817 629L818.6 629L820.2 629L821.8 629L823.3 629L824.9 629L826.5 629L827.8 612.2L829.2 592.3L831.2 566.8L832.8 542.9L834.3 521.7L835.7 497.8L836.9 480.7L838.5 467.9L840.5 456.6L843.2 446.9L846.2 439.8L849.4 429.6L851.9 421.7L855.4 414.9L867.2 409.8L878.9 405.9L890.6 402.3L902.3 399.5L914 396.6L925.7 394.3L939 391.6" stroke="#C8A000" stroke-width="1.4" fill="none" stroke-linejoin="round"/></g>
<g fill="#fff" stroke="#C8A000" stroke-width="1.6" stroke-linejoin="miter" stroke-miterlimit="10"><path d="M920.2 394.3a5.5 5.5 0 1 0 11.1 0a5.5 5.5 0 1 0 -11.1 0"/><path d="M908.5 396.6a5.5 5.5 0 1 0 11.1 0a5.5 5.5 0 1 0 -11.1 0"/><path d="M896.8 399.5a5.5 5.5 0 1 0 11.1 0a5.5 5.5 0 1 0 -11.1 0"/><path d="M885 402.3a5.5 5.5 0 1 0 11.1 0a5.5 5.5 0 1 0 -11.1 0"/><path d="M873.3 405.9a5.5 5.5 0 1 0 11.1 0a5.5 5.5 0 1 0 -11.1 0"/><path d="M861.6 409.8a5.5 5.5 0 1 0 11.1 0a5.5 5.5 0 1 0 -11.1 0"/><path d="M849.9 414.9a5.5 5.5 0 1 0 11.1 0a5.5 5.5 0 1 0 -11.1 0"/><path d="M846.4 421.7a5.5 5.5 0 1 0 11.1 0a5.5 5.5 0 1 0 -11.1 0"/><path d="M843.9 429.6a5.5 5.5 0 1 0 11.1 0a5.5 5.5 0 1 0 -11.1 0"/><path d="M840.7 439.8a5.5 5.5 0 1 0 11.1 0a5.5 5.5 0 1 0 -11.1 0"/><path d="M837.7 446.9a5.5 5.5 0 1 0 11.1 0a5.5 5.5 0 1 0 -11.1 0"/><path d="M835 456.6a5.5 5.5 0 1 0 11.1 0a5.5 5.5 0 1 0 -11.1 0"/><path d="M833 467.9a5.5 5.5 0 1 0 11.1 0a5.5 5.5 0 1 0 -11.1 0"/><path d="M831.3 480.7a5.5 5.5 0 1 0 11.1 0a5.5 5.5 0 1 0 -11.1 0"/><path d="M830.1 497.8a5.5 5.5 0 1 0 11.1 0a5.5 5.5 0 1 0 -11.1 0"/><path d="M828.8 521.7a5.5 5.5 0 1 0 11.1 0a5.5 5.5 0 1 0 -11.1 0"/><path d="M827.3 542.9a5.5 5.5 0 1 0 11.1 0a5.5 5.5 0 1 0 -11.1 0"/><path d="M825.6 566.8a5.5 5.5 0 1 0 11.1 0a5.5 5.5 0 1 0 -11.1 0"/><path d="M823.6 592.3a5.5 5.5 0 1 0 11.1 0a5.5 5.5 0 1 0 -11.1 0"/><path d="M822.3 612.2a5.5 5.5 0 1 0 11.1 0a5.5 5.5 0 1 0 -11.1 0"/><path d="M820.9 629a5.5 5.5 0 1 0 11.1 0a5.5 5.5 0 1 0 -11.1 0"/><path d="M819.4 629a5.5 5.5 0 1 0 11.1 0a5.5 5.5 0 1 0 -11.1 0"/><path d="M817.8 629a5.5 5.5 0 1 0 11.1 0a5.5 5.5 0 1 0 -11.1 0"/><path d="M816.2 629a5.5 5.5 0 1 0 11.1 0a5.5 5.5 0 1 0 -11.1 0"/><path d="M814.6 629a5.5 5.5 0 1 0 11.1 0a5.5 5.5 0 1 0 -11.1 0"/><path d="M813.1 629a5.5 5.5 0 1 0 11.1 0a5.5 5.5 0 1 0 -11.1 0"/><path d="M811.5 629a5.5 5.5 0 1 0 11.1 0a5.5 5.5 0 1 0 -11.1 0"/><path d="M809.9 629a5.5 5.5 0 1 0 11.1 0a5.5 5.5 0 1 0 -11.1 0"/><path d="M808.3 629a5.5 5.5 0 1 0 11.1 0a5.5 5.5 0 1 0 -11.1 0"/><path d="M806.8 629a5.5 5.5 0 1 0 11.1 0a5.5 5.5 0 1 0 -11.1 0"/><path d="M805.2 629a5.5 5.5 0 1 0 11.1 0a5.5 5.5 0 1 0 -11.1 0"/><path d="M803.6 629a5.5 5.5 0 1 0 11.1 0a5.5 5.5 0 1 0 -11.1 0"/><path d="M802 629a5.5 5.5 0 1 0 11.1 0a5.5 5.5 0 1 0 -11.1 0"/><path d="M800.5 629a5.5 5.5 0 1 0 11.1 0a5.5 5.5 0 1 0 -11.1 0"/><path d="M798.9 629a5.5 5.5 0 1 0 11.1 0a5.5 5.5 0 1 0 -11.1 0"/><path d="M797.3 629a5.5 5.5 0 1 0 11.1 0a5.5 5.5 0 1 0 -11.1 0"/><path d="M795.8 629a5.5 5.5 0 1 0 11.1 0a5.5 5.5 0 1 0 -11.1 0"/><path d="M794.2 629a5.5 5.5 0 1 0 11.1 0a5.5 5.5 0 1 0 -11.1 0"/><path d="M792.6 629a5.5 5.5 0 1 0 11.1 0a5.5 5.5 0 1 0 -11.1 0"/><path d="M791 629a5.5 5.5 0 1 0 11.1 0a5.5 5.5 0 1 0 -11.1 0"/><path d="M789.5 629a5.5 5.5 0 1 0 11.1 0a5.5 5.5 0 1 0 -11.1 0"/><path d="M786.9 629a5.5 5.5 0 1 0 11.1 0a5.5 5.5 0 1 0 -11.1 0"/><path d="M781.9 629a5.5 5.5 0 1 0 11.1 0a5.5 5.5 0 1 0 -11.1 0"/><path d="M776.9 629a5.5 5.5 0 1 0 11.1 0a5.5 5.5 0 1 0 -11.1 0"/><path d="M771.9 629a5.5 5.5 0 1 0 11.1 0a5.5 5.5 0 1 0 -11.1 0"/><path d="M766.9 629a5.5 5.5 0 1 0 11.1 0a5.5 5.5 0 1 0 -11.1 0"/><path d="M761.8 629a5.5 5.5 0 1 0 11.1 0a5.5 5.5 0 1 0 -11.1 0"/><path d="M756.8 629a5.5 5.5 0 1 0 11.1 0a5.5 5.5 0 1 0 -11.1 0"/><path d="M751.8 629a5.5 5.5 0 1 0 11.1 0a5.5 5.5 0 1 0 -11.1 0"/><path d="M746.8 629a5.5 5.5 0 1 0 11.1 0a5.5 5.5 0 1 0 -11.1 0"/><path d="M741.7 629a5.5 5.5 0 1 0 11.1 0a5.5 5.5 0 1 0 -11.1 0"/><path d="M736.7 629a5.5 5.5 0 1 0 11.1 0a5.5 5.5 0 1 0 -11.1 0"/><path d="M731.7 629a5.5 5.5 0 1 0 11.1 0a5.5 5.5 0 1 0 -11.1 0"/><path d="M726.7 629a5.5 5.5 0 1 0 11.1 0a5.5 5.5 0 1 0 -11.1 0"/><path d="M721.7 629a5.5 5.5 0 1 0 11.1 0a5.5 5.5 0 1 0 -11.1 0"/><path d="M716.6 629a5.5 5.5 0 1 0 11.1 0a5.5 5.5 0 1 0 -11.1 0"/><path d="M711.6 629a5.5 5.5 0 1 0 11.1 0a5.5 5.5 0 1 0 -11.1 0"/><path d="M706.6 629a5.5 5.5 0 1 0 11.1 0a5.5 5.5 0 1 0 -11.1 0"/><path d="M701.6 629a5.5 5.5 0 1 0 11.1 0a5.5 5.5 0 1 0 -11.1 0"/><path d="M696.5 629a5.5 5.5 0 1 0 11.1 0a5.5 5.5 0 1 0 -11.1 0"/><path d="M691.5 629a5.5 5.5 0 1 0 11.1 0a5.5 5.5 0 1 0 -11.1 0"/><path d="M686.5 629a5.5 5.5 0 1 0 11.1 0a5.5 5.5 0 1 0 -11.1 0"/><path d="M681.5 629a5.5 5.5 0 1 0 11.1 0a5.5 5.5 0 1 0 -11.1 0"/><path d="M676.5 629a5.5 5.5 0 1 0 11.1 0a5.5 5.5 0 1 0 -11.1 0"/><path d="M671.4 629a5.5 5.5 0 1 0 11.1 0a5.5 5.5 0 1 0 -11.1 0"/><path d="M666.4 629a5.5 5.5 0 1 0 11.1 0a5.5 5.5 0 1 0 -11.1 0"/><path d="M661.4 629a5.5 5.5 0 1 0 11.1 0a5.5 5.5 0 1 0 -11.1 0"/><path d="M656.4 629a5.5 5.5 0 1 0 11.1 0a5.5 5.5 0 1 0 -11.1 0"/><path d="M651.4 629a5.5 5.5 0 1 0 11.1 0a5.5 5.5 0 1 0 -11.1 0"/><path d="M646.3 629a5.5 5.5 0 1 0 11.1 0a5.5 5.5 0 1 0 -11.1 0"/><path d="M641.3 629a5.5 5.5 0 1 0 11.1 0a5.5 5.5 0 1 0 -11.1 0"/><path d="M636.3 629a5.5 5.5 0 1 0 11.1 0a5.5 5.5 0 1 0 -11.1 0"/><path d="M631.3 629a5.5 5.5 0 1 0 11.1 0a5.5 5.5 0 1 0 -11.1 0"/><path d="M626.2 629a5.5 5.5 0 1 0 11.1 0a5.5 5.5 0 1 0 -11.1 0"/><path d="M621.2 629a5.5 5.5 0 1 0 11.1 0a5.5 5.5 0 1 0 -11.1 0"/><path d="M616.2 629a5.5 5.5 0 1 0 11.1 0a5.5 5.5 0 1 0 -11.1 0"/><path d="M611.2 629a5.5 5.5 0 1 0 11.1 0a5.5 5.5 0 1 0 -11.1 0"/><path d="M606.2 629a5.5 5.5 0 1 0 11.1 0a5.5 5.5 0 1 0 -11.1 0"/><path d="M601.1 629a5.5 5.5 0 1 0 11.1 0a5.5 5.5 0 1 0 -11.1 0"/><path d="M596.1 629a5.5 5.5 0 1 0 11.1 0a5.5 5.5 0 1 0 -11.1 0"/><path d="M591.1 629a5.5 5.5 0 1 0 11.1 0a5.5 5.5 0 1 0 -11.1 0"/></g>
<g clip-path="url(#ci)"><path d="M587.4 629L595.8 629L599.1 629L602.8 627.3L606.5 624.1L610.2 620.9L613.9 619.1L617.6 617.5L621.2 615.8L624.9 613.9L628.6 611.1L632.3 608.3L636 605.5L639.7 602L643.3 598L647 593.9L650.7 589.9L654.4 585L658.1 580L661.8 575L665.4 570L669.1 564.5L672.8 559L676.5 553.5L680.2 548.1L683.9 542.6L687.5 537.2L691.2 531.8L694.9 526.9L698.6 522.3L702.3 517.7L705.9 513L709.6 508.9L713.3 504.9L717 500.8L720.7 496.8L724.4 493.1L728 489.4L731.7 485.7L735.4 482L739.1 478.3L742.8 474.7L746.5 471L750.1 467.8L753.8 464.7L757.5 461.5L761.2 458.5L764.9 456.1L768.6 453.6L772.2 451.1L775.9 448.8L779.6 446.8L783.3 444.7L787 442.6L790.7 440.6L794.3 438.7L798 436.7L801.7 434.7L805.4 432.8L809.1 430.9L812.8 429.3L816.4 427.8L820.1 426.2L823.8 424.7L827.5 423.1L831.2 421.6L834.8 420.3L838.5 418.9L842.2 417.6L845.9 416.3" stroke="#D25400" stroke-width="1.4" fill="none" stroke-linejoin="round"/></g>
<g fill="#fff" stroke="#D25400" stroke-width="1.6" stroke-linejoin="miter" stroke-miterlimit="10"><path d="M845.9 409.1L850.7 416.3L845.9 423.5L841.1 416.3Z"/><path d="M842.2 410.4L847 417.6L842.2 424.8L837.4 417.6Z"/><path d="M838.5 411.7L843.3 418.9L838.5 426.1L833.7 418.9Z"/><path d="M834.8 413.1L839.6 420.3L834.8 427.5L830 420.3Z"/><path d="M831.2 414.4L836 421.6L831.2 428.8L826.4 421.6Z"/><path d="M827.5 415.9L832.3 423.1L827.5 430.3L822.7 423.1Z"/><path d="M823.8 417.5L828.6 424.7L823.8 431.9L819 424.7Z"/><path d="M820.1 419L824.9 426.2L820.1 433.4L815.3 426.2Z"/><path d="M816.4 420.6L821.2 427.8L816.4 435L811.6 427.8Z"/><path d="M812.8 422.1L817.6 429.3L812.8 436.5L808 429.3Z"/><path d="M809.1 423.7L813.9 430.9L809.1 438.1L804.3 430.9Z"/><path d="M805.4 425.6L810.2 432.8L805.4 440L800.6 432.8Z"/><path d="M801.7 427.5L806.5 434.7L801.7 441.9L796.9 434.7Z"/><path d="M798 429.5L802.8 436.7L798 443.9L793.2 436.7Z"/><path d="M794.3 431.5L799.1 438.7L794.3 445.9L789.5 438.7Z"/><path d="M790.7 433.4L795.5 440.6L790.7 447.8L785.9 440.6Z"/><path d="M787 435.4L791.8 442.6L787 449.8L782.2 442.6Z"/><path d="M783.3 437.5L788.1 444.7L783.3 451.9L778.5 444.7Z"/><path d="M779.6 439.6L784.4 446.8L779.6 454L774.8 446.8Z"/><path d="M775.9 441.6L780.7 448.8L775.9 456L771.1 448.8Z"/><path d="M772.2 443.9L777 451.1L772.2 458.3L767.4 451.1Z"/><path d="M768.6 446.4L773.4 453.6L768.6 460.8L763.8 453.6Z"/><path d="M764.9 448.9L769.7 456.1L764.9 463.3L760.1 456.1Z"/><path d="M761.2 451.3L766 458.5L761.2 465.7L756.4 458.5Z"/><path d="M757.5 454.3L762.3 461.5L757.5 468.7L752.7 461.5Z"/><path d="M753.8 457.5L758.6 464.7L753.8 471.9L749 464.7Z"/><path d="M750.1 460.6L754.9 467.8L750.1 475L745.3 467.8Z"/><path d="M746.5 463.8L751.3 471L746.5 478.2L741.7 471Z"/><path d="M742.8 467.5L747.6 474.7L742.8 481.9L738 474.7Z"/><path d="M739.1 471.1L743.9 478.3L739.1 485.5L734.3 478.3Z"/><path d="M735.4 474.8L740.2 482L735.4 489.2L730.6 482Z"/><path d="M731.7 478.5L736.5 485.7L731.7 492.9L726.9 485.7Z"/><path d="M728 482.2L732.8 489.4L728 496.6L723.2 489.4Z"/><path d="M724.4 485.9L729.2 493.1L724.4 500.3L719.6 493.1Z"/><path d="M720.7 489.6L725.5 496.8L720.7 504L715.9 496.8Z"/><path d="M717 493.6L721.8 500.8L717 508L712.2 500.8Z"/><path d="M713.3 497.7L718.1 504.9L713.3 512.1L708.5 504.9Z"/><path d="M709.6 501.7L714.4 508.9L709.6 516.1L704.8 508.9Z"/><path d="M705.9 505.8L710.7 513L705.9 520.2L701.1 513Z"/><path d="M702.3 510.5L707.1 517.7L702.3 524.9L697.5 517.7Z"/><path d="M698.6 515.1L703.4 522.3L698.6 529.5L693.8 522.3Z"/><path d="M694.9 519.7L699.7 526.9L694.9 534.1L690.1 526.9Z"/><path d="M691.2 524.6L696 531.8L691.2 539L686.4 531.8Z"/><path d="M687.5 530L692.3 537.2L687.5 544.4L682.7 537.2Z"/><path d="M683.9 535.4L688.7 542.6L683.9 549.8L679.1 542.6Z"/><path d="M680.2 540.9L685 548.1L680.2 555.3L675.4 548.1Z"/><path d="M676.5 546.3L681.3 553.5L676.5 560.7L671.7 553.5Z"/><path d="M672.8 551.8L677.6 559L672.8 566.2L668 559Z"/><path d="M669.1 557.3L673.9 564.5L669.1 571.7L664.3 564.5Z"/><path d="M665.4 562.8L670.2 570L665.4 577.2L660.6 570Z"/><path d="M661.8 567.8L666.6 575L661.8 582.2L657 575Z"/><path d="M658.1 572.8L662.9 580L658.1 587.2L653.3 580Z"/><path d="M654.4 577.8L659.2 585L654.4 592.2L649.6 585Z"/><path d="M650.7 582.7L655.5 589.9L650.7 597.1L645.9 589.9Z"/><path d="M647 586.7L651.8 593.9L647 601.1L642.2 593.9Z"/><path d="M643.3 590.8L648.1 598L643.3 605.2L638.5 598Z"/><path d="M639.7 594.8L644.5 602L639.7 609.2L634.9 602Z"/><path d="M636 598.3L640.8 605.5L636 612.7L631.2 605.5Z"/><path d="M632.3 601.1L637.1 608.3L632.3 615.5L627.5 608.3Z"/><path d="M628.6 603.9L633.4 611.1L628.6 618.3L623.8 611.1Z"/><path d="M624.9 606.7L629.7 613.9L624.9 621.1L620.1 613.9Z"/><path d="M621.2 608.6L626 615.8L621.2 623L616.4 615.8Z"/><path d="M617.6 610.3L622.4 617.5L617.6 624.7L612.8 617.5Z"/><path d="M613.9 611.9L618.7 619.1L613.9 626.3L609.1 619.1Z"/><path d="M610.2 613.7L615 620.9L610.2 628.1L605.4 620.9Z"/><path d="M606.5 616.9L611.3 624.1L606.5 631.3L601.7 624.1Z"/><path d="M602.8 620.1L607.6 627.3L602.8 634.5L598 627.3Z"/><path d="M599.1 621.8L603.9 629L599.1 636.2L594.3 629Z"/><path d="M595.8 621.8L600.6 629L595.8 636.2L591 629Z"/></g>
<g clip-path="url(#ci)"><path d="M590.8 629L599.1 629L607.5 629L615.9 629L624.3 629L632.6 629L639.3 629L643.5 626.1L647.7 623.2L651.9 620.2L656.1 617.3L660.2 614.3L664.4 610.8L668.6 606.7L672.8 602.6L677 597.4L681.2 590.7L685.4 584L689.5 577.1L693.7 569.2L697.9 561.3L702.1 553.3L706.3 545.8L710.5 538.4L714.7 531L718.8 524.1L723 517.6L727.2 511.1L731.4 505.1L735.6 499.9L739.8 494.7L743.9 489.5L748.1 484.6L752.3 480.4L756.5 476.2L760.7 472.1L764.9 467.9L769.1 464.3L773.2 461.5L777.4 458.7L781.6 455.9L785.8 453.1L790 450.2L794.2 447.2L798.4 444.1L802.5 441.1L806.7 438.1L810.9 435.6L815.1 433.5L819.3 431.3L823.5 429.1L827.6 426.9L831.8 425L836 423.3L840.2 421.7L844.4 420.1L848.6 419.1" stroke="#8F5500" stroke-width="1.4" fill="none" stroke-linejoin="round"/></g>
<g fill="#fff" stroke="#8F5500" stroke-width="1.6" stroke-linejoin="miter" stroke-miterlimit="10"><path d="M843.6 414.1H853.6V424.1H843.6Z"/><path d="M839.4 415.1H849.4V425.1H839.4Z"/><path d="M835.2 416.7H845.2V426.7H835.2Z"/><path d="M831 418.3H841V428.3H831Z"/><path d="M826.8 420H836.8V430H826.8Z"/><path d="M822.6 421.9H832.6V431.9H822.6Z"/><path d="M818.5 424.1H828.5V434.1H818.5Z"/><path d="M814.3 426.3H824.3V436.3H814.3Z"/><path d="M810.1 428.5H820.1V438.5H810.1Z"/><path d="M805.9 430.6H815.9V440.6H805.9Z"/><path d="M801.7 433.1H811.7V443.1H801.7Z"/><path d="M797.5 436.1H807.5V446.1H797.5Z"/><path d="M793.4 439.1H803.4V449.1H793.4Z"/><path d="M789.2 442.2H799.2V452.2H789.2Z"/><path d="M785 445.2H795V455.2H785Z"/><path d="M780.8 448.1H790.8V458.1H780.8Z"/><path d="M776.6 450.9H786.6V460.9H776.6Z"/><path d="M772.4 453.7H782.4V463.7H772.4Z"/><path d="M768.2 456.5H778.2V466.5H768.2Z"/><path d="M764.1 459.3H774.1V469.3H764.1Z"/><path d="M759.9 462.9H769.9V472.9H759.9Z"/><path d="M755.7 467.1H765.7V477.1H755.7Z"/><path d="M751.5 471.2H761.5V481.2H751.5Z"/><path d="M747.3 475.4H757.3V485.4H747.3Z"/><path d="M743.1 479.6H753.1V489.6H743.1Z"/><path d="M738.9 484.5H748.9V494.5H738.9Z"/><path d="M734.8 489.7H744.8V499.7H734.8Z"/><path d="M730.6 494.9H740.6V504.9H730.6Z"/><path d="M726.4 500.1H736.4V510.1H726.4Z"/><path d="M722.2 506.1H732.2V516.1H722.2Z"/><path d="M718 512.6H728V522.6H718Z"/><path d="M713.8 519.1H723.8V529.1H713.8Z"/><path d="M709.7 526H719.7V536H709.7Z"/><path d="M705.5 533.4H715.5V543.4H705.5Z"/><path d="M701.3 540.8H711.3V550.8H701.3Z"/><path d="M697.1 548.3H707.1V558.3H697.1Z"/><path d="M692.9 556.3H702.9V566.3H692.9Z"/><path d="M688.7 564.2H698.7V574.2H688.7Z"/><path d="M684.5 572.1H694.5V582.1H684.5Z"/><path d="M680.4 579H690.4V589H680.4Z"/><path d="M676.2 585.7H686.2V595.7H676.2Z"/><path d="M672 592.4H682V602.4H672Z"/><path d="M667.8 597.6H677.8V607.6H667.8Z"/><path d="M663.6 601.7H673.6V611.7H663.6Z"/><path d="M659.4 605.8H669.4V615.8H659.4Z"/><path d="M655.2 609.3H665.2V619.3H655.2Z"/><path d="M651.1 612.3H661.1V622.3H651.1Z"/><path d="M646.9 615.2H656.9V625.2H646.9Z"/><path d="M642.7 618.2H652.7V628.2H642.7Z"/><path d="M638.5 621.1H648.5V631.1H638.5Z"/><path d="M634.3 624H644.3V634H634.3Z"/><path d="M627.6 624H637.6V634H627.6Z"/><path d="M619.3 624H629.3V634H619.3Z"/><path d="M610.9 624H620.9V634H610.9Z"/><path d="M602.5 624H612.5V634H602.5Z"/><path d="M594.1 624H604.1V634H594.1Z"/></g>
<g clip-path="url(#ci)"><path d="M587.4 629L595.8 629L604.2 629L612.5 629L620.9 629L629.3 629L637.6 629L646 629L654.4 629L662.8 629L671.1 629L679.5 629L679.5 629L682.8 626.6L686.2 624.2L689.5 621.8L692.9 619.4L696.2 617.1L699.6 614.1L702.9 610.5L706.3 606.8L709.6 601.6L713 595.3L716.3 589.1L719.7 582.8L723 575.6L726.4 567.4L729.7 559.2L733.1 551L736.4 543.9L739.8 536.8L743.1 529.8L746.5 522.7L749.8 516.3L753.2 509.9L756.5 503.6L759.9 497.2L763.2 491.8L766.5 486.6L769.9 481.4L773.2 476.2L776.6 471.5L779.9 468.3L783.3 465.2L786.6 462.1L790 459L793.3 455.8L796.7 452.7L800 449.5L803.4 446.4L806.7 443.6L810.1 441.2L813.4 438.8L816.8 436.3L820.1 433.9L823.5 431.9L826.8 430.2L830.2 428.5L833.5 426.8L836.9 425.2L840.2 423.7L843.6 422.4L846.9 421" stroke="#4C9A00" stroke-width="1.4" fill="none" stroke-linejoin="round"/></g>
<g fill="#fff" stroke="#4C9A00" stroke-width="1.5" stroke-linejoin="miter" stroke-miterlimit="4"><path d="M846.9 414.8L848.3 419.1L852.8 419.1L849.2 421.8L850.5 426.1L846.9 423.4L843.3 426.1L844.6 421.8L841 419.1L845.5 419.1Z"/><path d="M843.6 416.2L844.9 420.4L849.4 420.4L845.8 423.1L847.2 427.4L843.6 424.7L839.9 427.4L841.3 423.1L837.7 420.4L842.2 420.4Z"/><path d="M840.2 417.5L841.6 421.8L846.1 421.8L842.5 424.4L843.8 428.7L840.2 426L836.6 428.7L838 424.4L834.3 421.8L838.8 421.8Z"/><path d="M836.9 419L838.2 423.3L842.8 423.3L839.1 425.9L840.5 430.2L836.9 427.5L833.2 430.2L834.6 425.9L831 423.3L835.5 423.3Z"/><path d="M833.5 420.6L834.9 424.9L839.4 424.9L835.8 427.6L837.2 431.9L833.5 429.2L829.9 431.9L831.3 427.6L827.6 424.9L832.1 424.9Z"/><path d="M830.2 422.3L831.6 426.6L836.1 426.6L832.4 429.3L833.8 433.5L830.2 430.9L826.5 433.5L827.9 429.3L824.3 426.6L828.8 426.6Z"/><path d="M826.8 424L828.2 428.3L832.7 428.3L829.1 430.9L830.5 435.2L826.8 432.6L823.2 435.2L824.6 430.9L820.9 428.3L825.4 428.3Z"/><path d="M823.5 425.7L824.9 430L829.4 430L825.7 432.6L827.1 436.9L823.5 434.3L819.8 436.9L821.2 432.6L817.6 430L822.1 430Z"/><path d="M820.1 427.7L821.5 432L826 432L822.4 434.7L823.8 438.9L820.1 436.3L816.5 438.9L817.9 434.7L814.2 432L818.7 432Z"/><path d="M816.8 430.1L818.2 434.4L822.7 434.4L819 437.1L820.4 441.4L816.8 438.7L813.1 441.4L814.5 437.1L810.9 434.4L815.4 434.4Z"/><path d="M813.4 432.6L814.8 436.8L819.3 436.8L815.7 439.5L817.1 443.8L813.4 441.1L809.8 443.8L811.2 439.5L807.5 436.8L812 436.8Z"/><path d="M810.1 435L811.5 439.3L816 439.3L812.3 441.9L813.7 446.2L810.1 443.5L806.4 446.2L807.8 441.9L804.2 439.3L808.7 439.3Z"/><path d="M806.7 437.4L808.1 441.7L812.6 441.7L809 444.3L810.4 448.6L806.7 446L803.1 448.6L804.5 444.3L800.8 441.7L805.3 441.7Z"/><path d="M803.4 440.2L804.8 444.5L809.3 444.5L805.6 447.1L807 451.4L803.4 448.7L799.7 451.4L801.1 447.1L797.5 444.5L802 444.5Z"/><path d="M800 443.3L801.4 447.6L805.9 447.6L802.3 450.3L803.7 454.5L800 451.9L796.4 454.5L797.8 450.3L794.1 447.6L798.6 447.6Z"/><path d="M796.7 446.5L798.1 450.8L802.6 450.8L798.9 453.4L800.3 457.7L796.7 455L793 457.7L794.4 453.4L790.8 450.8L795.3 450.8Z"/><path d="M793.3 449.6L794.7 453.9L799.2 453.9L795.6 456.5L797 460.8L793.3 458.2L789.7 460.8L791.1 456.5L787.4 453.9L791.9 453.9Z"/><path d="M790 452.8L791.4 457L795.9 457L792.2 459.7L793.6 464L790 461.3L786.3 464L787.7 459.7L784.1 457L788.6 457Z"/><path d="M786.6 455.9L788 460.2L792.5 460.2L788.9 462.8L790.3 467.1L786.6 464.5L783 467.1L784.4 462.8L780.7 460.2L785.2 460.2Z"/><path d="M783.3 459L784.7 463.3L789.2 463.3L785.5 465.9L786.9 470.2L783.3 467.6L779.6 470.2L781 465.9L777.4 463.3L781.9 463.3Z"/><path d="M779.9 462.1L781.3 466.4L785.8 466.4L782.2 469.1L783.6 473.4L779.9 470.7L776.3 473.4L777.7 469.1L774 466.4L778.5 466.4Z"/><path d="M776.6 465.3L778 469.5L782.5 469.5L778.8 472.2L780.2 476.5L776.6 473.8L772.9 476.5L774.3 472.2L770.7 469.5L775.2 469.5Z"/><path d="M773.2 470L774.6 474.3L779.1 474.3L775.5 477L776.9 481.3L773.2 478.6L769.6 481.3L771 477L767.3 474.3L771.9 474.3Z"/><path d="M769.9 475.2L771.3 479.5L775.8 479.5L772.1 482.2L773.5 486.4L769.9 483.8L766.3 486.4L767.6 482.2L764 479.5L768.5 479.5Z"/><path d="M766.5 480.4L767.9 484.7L772.4 484.7L768.8 487.4L770.2 491.6L766.5 489L762.9 491.6L764.3 487.4L760.7 484.7L765.2 484.7Z"/><path d="M763.2 485.6L764.6 489.9L769.1 489.9L765.5 492.5L766.8 496.8L763.2 494.2L759.6 496.8L760.9 492.5L757.3 489.9L761.8 489.9Z"/><path d="M759.9 491L761.2 495.3L765.7 495.3L762.1 498L763.5 502.2L759.9 499.6L756.2 502.2L757.6 498L754 495.3L758.5 495.3Z"/><path d="M756.5 497.4L757.9 501.7L762.4 501.7L758.8 504.3L760.1 508.6L756.5 506L752.9 508.6L754.3 504.3L750.6 501.7L755.1 501.7Z"/><path d="M753.2 503.7L754.5 508L759.1 508L755.4 510.7L756.8 514.9L753.2 512.3L749.5 514.9L750.9 510.7L747.3 508L751.8 508Z"/><path d="M749.8 510.1L751.2 514.4L755.7 514.4L752.1 517L753.5 521.3L749.8 518.6L746.2 521.3L747.6 517L743.9 514.4L748.4 514.4Z"/><path d="M746.5 516.5L747.9 520.8L752.4 520.8L748.7 523.5L750.1 527.8L746.5 525.1L742.8 527.8L744.2 523.5L740.6 520.8L745.1 520.8Z"/><path d="M743.1 523.6L744.5 527.9L749 527.9L745.4 530.5L746.8 534.8L743.1 532.1L739.5 534.8L740.9 530.5L737.2 527.9L741.7 527.9Z"/><path d="M739.8 530.6L741.2 534.9L745.7 534.9L742 537.5L743.4 541.8L739.8 539.2L736.1 541.8L737.5 537.5L733.9 534.9L738.4 534.9Z"/><path d="M736.4 537.7L737.8 541.9L742.3 541.9L738.7 544.6L740.1 548.9L736.4 546.2L732.8 548.9L734.2 544.6L730.5 541.9L735 541.9Z"/><path d="M733.1 544.8L734.5 549L739 549L735.3 551.7L736.7 556L733.1 553.3L729.4 556L730.8 551.7L727.2 549L731.7 549Z"/><path d="M729.7 553L731.1 557.2L735.6 557.2L732 559.9L733.4 564.2L729.7 561.5L726.1 564.2L727.5 559.9L723.8 557.2L728.3 557.2Z"/><path d="M726.4 561.2L727.8 565.4L732.3 565.4L728.6 568.1L730 572.4L726.4 569.7L722.7 572.4L724.1 568.1L720.5 565.4L725 565.4Z"/><path d="M723 569.4L724.4 573.7L728.9 573.7L725.3 576.3L726.7 580.6L723 577.9L719.4 580.6L720.8 576.3L717.1 573.7L721.6 573.7Z"/><path d="M719.7 576.6L721.1 580.9L725.6 580.9L721.9 583.5L723.3 587.8L719.7 585.2L716 587.8L717.4 583.5L713.8 580.9L718.3 580.9Z"/><path d="M716.3 582.9L717.7 587.2L722.2 587.2L718.6 589.8L720 594.1L716.3 591.4L712.7 594.1L714.1 589.8L710.4 587.2L714.9 587.2Z"/><path d="M713 589.1L714.4 593.4L718.9 593.4L715.2 596.1L716.6 600.4L713 597.7L709.3 600.4L710.7 596.1L707.1 593.4L711.6 593.4Z"/><path d="M709.6 595.4L711 599.7L715.5 599.7L711.9 602.4L713.3 606.6L709.6 604L706 606.6L707.4 602.4L703.7 599.7L708.2 599.7Z"/><path d="M706.3 600.6L707.7 604.9L712.2 604.9L708.5 607.6L709.9 611.8L706.3 609.2L702.6 611.8L704 607.6L700.4 604.9L704.9 604.9Z"/><path d="M702.9 604.3L704.3 608.5L708.8 608.5L705.2 611.2L706.6 615.5L702.9 612.8L699.3 615.5L700.7 611.2L697 608.5L701.5 608.5Z"/><path d="M699.6 607.9L701 612.2L705.5 612.2L701.8 614.8L703.2 619.1L699.6 616.4L695.9 619.1L697.3 614.8L693.7 612.2L698.2 612.2Z"/><path d="M696.2 610.9L697.6 615.2L702.1 615.2L698.5 617.8L699.9 622.1L696.2 619.4L692.6 622.1L694 617.8L690.3 615.2L694.8 615.2Z"/><path d="M692.9 613.2L694.3 617.5L698.8 617.5L695.1 620.2L696.5 624.5L692.9 621.8L689.2 624.5L690.6 620.2L687 617.5L691.5 617.5Z"/><path d="M689.5 615.6L690.9 619.9L695.4 619.9L691.8 622.6L693.2 626.8L689.5 624.2L685.9 626.8L687.3 622.6L683.6 619.9L688.2 619.9Z"/><path d="M686.2 618L687.6 622.3L692.1 622.3L688.4 624.9L689.8 629.2L686.2 626.6L682.6 629.2L683.9 624.9L680.3 622.3L684.8 622.3Z"/><path d="M682.8 620.4L684.2 624.7L688.7 624.7L685.1 627.3L686.5 631.6L682.8 629L679.2 631.6L680.6 627.3L677 624.7L681.5 624.7Z"/><path d="M679.5 622.8L680.9 627.1L685.4 627.1L681.8 629.7L683.1 634L679.5 631.4L675.9 634L677.2 629.7L673.6 627.1L678.1 627.1Z"/><path d="M679.5 622.8L680.9 627.1L685.4 627.1L681.8 629.7L683.1 634L679.5 631.4L675.9 634L677.2 629.7L673.6 627.1L678.1 627.1Z"/><path d="M671.1 622.8L672.5 627.1L677 627.1L673.4 629.7L674.8 634L671.1 631.4L667.5 634L668.9 629.7L665.2 627.1L669.7 627.1Z"/><path d="M662.8 622.8L664.2 627.1L668.7 627.1L665 629.7L666.4 634L662.8 631.4L659.1 634L660.5 629.7L656.9 627.1L661.4 627.1Z"/><path d="M654.4 622.8L655.8 627.1L660.3 627.1L656.6 629.7L658 634L654.4 631.4L650.7 634L652.1 629.7L648.5 627.1L653 627.1Z"/><path d="M646 622.8L647.4 627.1L651.9 627.1L648.3 629.7L649.7 634L646 631.4L642.4 634L643.8 629.7L640.1 627.1L644.6 627.1Z"/><path d="M637.6 622.8L639 627.1L643.5 627.1L639.9 629.7L641.3 634L637.6 631.4L634 634L635.4 629.7L631.8 627.1L636.3 627.1Z"/><path d="M629.3 622.8L630.7 627.1L635.2 627.1L631.5 629.7L632.9 634L629.3 631.4L625.6 634L627 629.7L623.4 627.1L627.9 627.1Z"/><path d="M620.9 622.8L622.3 627.1L626.8 627.1L623.2 629.7L624.6 634L620.9 631.4L617.3 634L618.7 629.7L615 627.1L619.5 627.1Z"/><path d="M612.5 622.8L613.9 627.1L618.4 627.1L614.8 629.7L616.2 634L612.5 631.4L608.9 634L610.3 629.7L606.6 627.1L611.1 627.1Z"/><path d="M604.2 622.8L605.6 627.1L610.1 627.1L606.4 629.7L607.8 634L604.2 631.4L600.5 634L601.9 629.7L598.3 627.1L602.8 627.1Z"/><path d="M595.8 622.8L597.2 627.1L601.7 627.1L598.1 629.7L599.4 634L595.8 631.4L592.2 634L593.5 629.7L589.9 627.1L594.4 627.1Z"/></g>
<g clip-path="url(#ci)"><path d="M601.7 629L605 629L608.4 629L611.7 629L615.1 629L618.4 629L621.7 629L625.1 629L628.4 629L631.8 629L635.1 629L638.5 629L641.8 629L645.2 629L648.5 629L651.9 629L655.2 629L658.6 629L661.9 629L665.3 629L668.6 629L672 629L675.3 629L678.7 629L682 629L685.4 629L688.7 629L692.1 629L695.4 629L698.8 629L702.1 629L705.4 629L708.8 629L712.1 629L715.5 629L718.8 629L722.2 629L725.5 629L728.9 629L732.2 629L735.6 627.4L739.3 619L742.9 609.3L746.6 600.8L750.3 592.6L754 584.4L757.7 575.3L761.4 565.5L765 555.6L768.7 545.6L772.4 535.6L776.1 525.2L779.8 516.1L783.5 507.6L787.1 499.1L790.8 490.5L794.5 482.8L798.2 476L801.9 469.1L805.6 462.6L809.2 456.1L812.9 450.6L816.6 445.6L820.3 441.2L824 438L827.6 435L831.3 432.6L835 430.3L838.7 428.8L842.4 427.3L846.1 426.4L849.7 425.6" stroke="#1F4E8F" stroke-width="1.4" fill="none" stroke-linejoin="round"/></g>
<g fill="#fff" stroke="#1F4E8F" stroke-width="1.6" stroke-linejoin="miter" stroke-miterlimit="10"><path d="M849.7 420.1L855.7 431.1L843.7 431.1Z"/><path d="M846.1 420.9L852.1 431.9L840.1 431.9Z"/><path d="M842.4 421.8L848.4 432.8L836.4 432.8Z"/><path d="M838.7 423.3L844.7 434.3L832.7 434.3Z"/><path d="M835 424.8L841 435.8L829 435.8Z"/><path d="M831.3 427.1L837.3 438.1L825.3 438.1Z"/><path d="M827.6 429.5L833.6 440.5L821.6 440.5Z"/><path d="M824 432.5L830 443.5L818 443.5Z"/><path d="M820.3 435.7L826.3 446.7L814.3 446.7Z"/><path d="M816.6 440.1L822.6 451.1L810.6 451.1Z"/><path d="M812.9 445.1L818.9 456.1L806.9 456.1Z"/><path d="M809.2 450.6L815.2 461.6L803.2 461.6Z"/><path d="M805.6 457.1L811.6 468.1L799.6 468.1Z"/><path d="M801.9 463.6L807.9 474.6L795.9 474.6Z"/><path d="M798.2 470.5L804.2 481.5L792.2 481.5Z"/><path d="M794.5 477.3L800.5 488.3L788.5 488.3Z"/><path d="M790.8 485L796.8 496L784.8 496Z"/><path d="M787.1 493.6L793.1 504.6L781.1 504.6Z"/><path d="M783.5 502.1L789.5 513.1L777.5 513.1Z"/><path d="M779.8 510.6L785.8 521.6L773.8 521.6Z"/><path d="M776.1 519.7L782.1 530.7L770.1 530.7Z"/><path d="M772.4 530.1L778.4 541.1L766.4 541.1Z"/><path d="M768.7 540.1L774.7 551.1L762.7 551.1Z"/><path d="M765 550.1L771 561.1L759 561.1Z"/><path d="M761.4 560L767.4 571L755.4 571Z"/><path d="M757.7 569.8L763.7 580.8L751.7 580.8Z"/><path d="M754 578.9L760 589.9L748 589.9Z"/><path d="M750.3 587.1L756.3 598.1L744.3 598.1Z"/><path d="M746.6 595.3L752.6 606.3L740.6 606.3Z"/><path d="M742.9 603.8L748.9 614.8L736.9 614.8Z"/><path d="M739.3 613.5L745.3 624.5L733.3 624.5Z"/><path d="M735.6 621.9L741.6 632.9L729.6 632.9Z"/><path d="M732.2 623.5L738.2 634.5L726.2 634.5Z"/><path d="M728.9 623.5L734.9 634.5L722.9 634.5Z"/><path d="M725.5 623.5L731.5 634.5L719.5 634.5Z"/><path d="M722.2 623.5L728.2 634.5L716.2 634.5Z"/><path d="M718.8 623.5L724.8 634.5L712.8 634.5Z"/><path d="M715.5 623.5L721.5 634.5L709.5 634.5Z"/><path d="M712.1 623.5L718.1 634.5L706.1 634.5Z"/><path d="M708.8 623.5L714.8 634.5L702.8 634.5Z"/><path d="M705.4 623.5L711.4 634.5L699.4 634.5Z"/><path d="M702.1 623.5L708.1 634.5L696.1 634.5Z"/><path d="M698.8 623.5L704.8 634.5L692.8 634.5Z"/><path d="M695.4 623.5L701.4 634.5L689.4 634.5Z"/><path d="M692.1 623.5L698.1 634.5L686.1 634.5Z"/><path d="M688.7 623.5L694.7 634.5L682.7 634.5Z"/><path d="M685.4 623.5L691.4 634.5L679.4 634.5Z"/><path d="M682 623.5L688 634.5L676 634.5Z"/><path d="M678.7 623.5L684.7 634.5L672.7 634.5Z"/><path d="M675.3 623.5L681.3 634.5L669.3 634.5Z"/><path d="M672 623.5L678 634.5L666 634.5Z"/><path d="M668.6 623.5L674.6 634.5L662.6 634.5Z"/><path d="M665.3 623.5L671.3 634.5L659.3 634.5Z"/><path d="M661.9 623.5L667.9 634.5L655.9 634.5Z"/><path d="M658.6 623.5L664.6 634.5L652.6 634.5Z"/><path d="M655.2 623.5L661.2 634.5L649.2 634.5Z"/><path d="M651.9 623.5L657.9 634.5L645.9 634.5Z"/><path d="M648.5 623.5L654.5 634.5L642.5 634.5Z"/><path d="M645.2 623.5L651.2 634.5L639.2 634.5Z"/><path d="M641.8 623.5L647.8 634.5L635.8 634.5Z"/><path d="M638.5 623.5L644.5 634.5L632.5 634.5Z"/><path d="M635.1 623.5L641.1 634.5L629.1 634.5Z"/><path d="M631.8 623.5L637.8 634.5L625.8 634.5Z"/><path d="M628.4 623.5L634.4 634.5L622.4 634.5Z"/><path d="M625.1 623.5L631.1 634.5L619.1 634.5Z"/><path d="M621.7 623.5L627.7 634.5L615.7 634.5Z"/><path d="M618.4 623.5L624.4 634.5L612.4 634.5Z"/><path d="M615.1 623.5L621.1 634.5L609.1 634.5Z"/><path d="M611.7 623.5L617.7 634.5L605.7 634.5Z"/><path d="M608.4 623.5L614.4 634.5L602.4 634.5Z"/><path d="M605 623.5L611 634.5L599 634.5Z"/><path d="M601.7 623.5L607.7 634.5L595.7 634.5Z"/></g>
<g clip-path="url(#ci)"><path d="M679.5 629L684.2 629L688.9 629L693.6 629L698.2 629L702.9 629L707.6 629L712.3 629L717 629L721.7 629L726.4 629L731.1 629L735.7 629L740.4 629L745.1 629L749.8 629L754.5 629L759.2 629L763.9 629L768.6 629L773.2 629L778.4 614.8L782.6 605.1L786.8 589.4L791 571L795.3 548.4L798 527.2L801.9 509.1L805.2 492L809.4 476.5L813.1 463.7L816.8 453.2L821 444L825.1 436.9L830.2 431.7L835.2 427.5L840.2 424.3L845.2 422.4" stroke="#5A2D6E" stroke-width="1.4" fill="none" stroke-linejoin="round"/></g>
<path d="M839.7 422.4H850.7M845.2 416.9V427.9M841.3 418.5L849.1 426.3M841.3 426.3L849.1 418.5M834.7 424.3H845.7M840.2 418.8V429.8M836.3 420.4L844.1 428.2M836.3 428.2L844.1 420.4M829.7 427.5H840.7M835.2 422V433M831.3 423.6L839.1 431.4M831.3 431.4L839.1 423.6M824.7 431.7H835.7M830.2 426.2V437.2M826.3 427.8L834.1 435.6M826.3 435.6L834.1 427.8M819.6 436.9H830.6M825.1 431.4V442.4M821.2 433L829 440.8M821.2 440.8L829 433M815.5 444H826.5M821 438.5V449.5M817.1 440.1L824.9 447.9M817.1 447.9L824.9 440.1M811.3 453.2H822.3M816.8 447.7V458.7M812.9 449.3L820.7 457.1M812.9 457.1L820.7 449.3M807.6 463.7H818.6M813.1 458.2V469.2M809.2 459.8L817 467.6M809.2 467.6L817 459.8M803.9 476.5H814.9M809.4 471V482M805.5 472.6L813.3 480.4M805.5 480.4L813.3 472.6M799.7 492H810.7M805.2 486.5V497.5M801.3 488.1L809.1 495.9M801.3 495.9L809.1 488.1M796.4 509.1H807.4M801.9 503.6V514.6M798 505.2L805.8 513M798 513L805.8 505.2M792.5 527.2H803.5M798 521.7V532.7M794.1 523.3L801.9 531.1M794.1 531.1L801.9 523.3M789.8 548.4H800.8M795.3 542.9V553.9M791.4 544.5L799.2 552.3M791.4 552.3L799.2 544.5M785.5 571H796.5M791 565.5V576.5M787.1 567.1L794.9 574.9M787.1 574.9L794.9 567.1M781.3 589.4H792.3M786.8 583.9V594.9M782.9 585.5L790.7 593.3M782.9 593.3L790.7 585.5M777.1 605.1H788.1M782.6 599.6V610.6M778.7 601.2L786.5 609M778.7 609L786.5 601.2M772.9 614.8H783.9M778.4 609.3V620.3M774.5 610.9L782.3 618.7M774.5 618.7L782.3 610.9M767.7 629H778.7M773.2 623.5V634.5M769.3 625.1L777.1 632.9M769.3 632.9L777.1 625.1M763.1 629H774.1M768.6 623.5V634.5M764.7 625.1L772.5 632.9M764.7 632.9L772.5 625.1M758.4 629H769.4M763.9 623.5V634.5M760 625.1L767.8 632.9M760 632.9L767.8 625.1M753.7 629H764.7M759.2 623.5V634.5M755.3 625.1L763.1 632.9M755.3 632.9L763.1 625.1M749 629H760M754.5 623.5V634.5M750.6 625.1L758.4 632.9M750.6 632.9L758.4 625.1M744.3 629H755.3M749.8 623.5V634.5M745.9 625.1L753.7 632.9M745.9 632.9L753.7 625.1M739.6 629H750.6M745.1 623.5V634.5M741.2 625.1L749 632.9M741.2 632.9L749 625.1M734.9 629H745.9M740.4 623.5V634.5M736.5 625.1L744.3 632.9M736.5 632.9L744.3 625.1M730.2 629H741.2M735.7 623.5V634.5M731.8 625.1L739.6 632.9M731.8 632.9L739.6 625.1M725.6 629H736.6M731.1 623.5V634.5M727.2 625.1L735 632.9M727.2 632.9L735 625.1M720.9 629H731.9M726.4 623.5V634.5M722.5 625.1L730.3 632.9M722.5 632.9L730.3 625.1M716.2 629H727.2M721.7 623.5V634.5M717.8 625.1L725.6 632.9M717.8 632.9L725.6 625.1M711.5 629H722.5M717 623.5V634.5M713.1 625.1L720.9 632.9M713.1 632.9L720.9 625.1M706.8 629H717.8M712.3 623.5V634.5M708.4 625.1L716.2 632.9M708.4 632.9L716.2 625.1M702.1 629H713.1M707.6 623.5V634.5M703.7 625.1L711.5 632.9M703.7 632.9L711.5 625.1M697.4 629H708.4M702.9 623.5V634.5M699 625.1L706.8 632.9M699 632.9L706.8 625.1M692.7 629H703.7M698.2 623.5V634.5M694.3 625.1L702.1 632.9M694.3 632.9L702.1 625.1M688.1 629H699.1M693.6 623.5V634.5M689.7 625.1L697.5 632.9M689.7 632.9L697.5 625.1M683.4 629H694.4M688.9 623.5V634.5M685 625.1L692.8 632.9M685 632.9L692.8 625.1M678.7 629H689.7M684.2 623.5V634.5M680.3 625.1L688.1 632.9M680.3 632.9L688.1 625.1M674 629H685M679.5 623.5V634.5M675.6 625.1L683.4 632.9M675.6 632.9L683.4 625.1" stroke="#5A2D6E" stroke-width="1.8" fill="none" stroke-linecap="butt"/>
<g clip-path="url(#ci)"><path d="M679.5 629L684.5 629L689.5 629L694.6 629L699.6 629L704.6 629L709.6 629L714.7 629L719.7 629L724.7 629L729.7 629L734.7 629L739.8 629L744.8 629L749.8 629L754.8 629L759.9 629L764.9 629L769.9 629L774.9 629L779.9 629L785 629L790 624.3L792.3 617.7L798 600.9L801 582.3L803.9 558.4L808.1 523L810.9 500.4L813.8 479.4L816.4 454L823.6 438.5L832 431.4L840.5 425.6L847.6 422.8" stroke="#A00000" stroke-width="1.4" fill="none" stroke-linejoin="round"/></g>
<g fill="#fff" stroke="#A00000" stroke-width="1.6" stroke-linejoin="miter" stroke-miterlimit="10"><path d="M842.3 422.8L852.8 416.5L852.8 429Z"/><path d="M835.3 425.6L845.8 419.4L845.8 431.9Z"/><path d="M826.8 431.4L837.3 425.2L837.3 437.7Z"/><path d="M818.4 438.5L828.9 432.2L828.9 444.7Z"/><path d="M811.2 454L821.7 447.7L821.7 460.2Z"/><path d="M808.5 479.4L819 473.2L819 485.7Z"/><path d="M805.7 500.4L816.2 494.2L816.2 506.7Z"/><path d="M802.8 523L813.3 516.7L813.3 529.2Z"/><path d="M798.6 558.4L809.1 552.2L809.1 564.7Z"/><path d="M795.8 582.3L806.3 576L806.3 588.5Z"/><path d="M792.8 600.9L803.3 594.7L803.3 607.2Z"/><path d="M787.1 617.7L797.6 611.5L797.6 624Z"/><path d="M784.7 624.3L795.2 618L795.2 630.5Z"/><path d="M779.7 629L790.2 622.8L790.2 635.2Z"/><path d="M774.7 629L785.2 622.8L785.2 635.2Z"/><path d="M769.7 629L780.2 622.8L780.2 635.2Z"/><path d="M764.6 629L775.1 622.8L775.1 635.2Z"/><path d="M759.6 629L770.1 622.8L770.1 635.2Z"/><path d="M754.6 629L765.1 622.8L765.1 635.2Z"/><path d="M749.6 629L760.1 622.8L760.1 635.2Z"/><path d="M744.6 629L755.1 622.8L755.1 635.2Z"/><path d="M739.5 629L750 622.8L750 635.2Z"/><path d="M734.5 629L745 622.8L745 635.2Z"/><path d="M729.5 629L740 622.8L740 635.2Z"/><path d="M724.5 629L735 622.8L735 635.2Z"/><path d="M719.4 629L729.9 622.8L729.9 635.2Z"/><path d="M714.4 629L724.9 622.8L724.9 635.2Z"/><path d="M709.4 629L719.9 622.8L719.9 635.2Z"/><path d="M704.4 629L714.9 622.8L714.9 635.2Z"/><path d="M699.4 629L709.9 622.8L709.9 635.2Z"/><path d="M694.3 629L704.8 622.8L704.8 635.2Z"/><path d="M689.3 629L699.8 622.8L699.8 635.2Z"/><path d="M684.3 629L694.8 622.8L694.8 635.2Z"/><path d="M679.3 629L689.8 622.8L689.8 635.2Z"/><path d="M674.2 629L684.8 622.8L684.8 635.2Z"/></g>
<path d="M595.8 436.4L930.6 387.1" stroke="#0000ff" stroke-width="2.2"/>
<text transform="translate(595.8,660.5) scale(1,1.1)" font-size="22.8" text-anchor="middle">80</text>
<text transform="translate(679.5,660.5) scale(1,1.1)" font-size="22.8" text-anchor="middle">85</text>
<text transform="translate(763.2,660.5) scale(1,1.1)" font-size="22.8" text-anchor="middle">90</text>
<text transform="translate(846.9,660.5) scale(1,1.1)" font-size="22.8" text-anchor="middle">95</text>
<text transform="translate(930.6,660.5) scale(1,1.1)" font-size="22.8" text-anchor="middle">100</text>
<text transform="translate(590,639.7) scale(1,1.1)" font-size="22.8" text-anchor="end">0</text>
<text transform="translate(590,587.2) scale(1,1.1)" font-size="22.8" text-anchor="end">20</text>
<text transform="translate(590,534.7) scale(1,1.1)" font-size="22.8" text-anchor="end">40</text>
<text transform="translate(590,482.3) scale(1,1.1)" font-size="22.8" text-anchor="end">60</text>
<text transform="translate(590,429.8) scale(1,1.1)" font-size="22.8" text-anchor="end">80</text>
<text transform="translate(590,377.3) scale(1,1.1)" font-size="22.8" text-anchor="end">100</text>
<rect x="153.2" y="44.6" width="166.3" height="311.5" fill="#fff" stroke="#262626" stroke-width="1.8"/>
<path d="M161 66.7H238" stroke="#D25400" stroke-width="3"/>
<g fill="#fff" stroke="#D25400" stroke-width="3" stroke-linejoin="miter" stroke-miterlimit="10"><path d="M199.5 57.7L205.1 66.7L199.5 75.7L193.9 66.7Z"/></g>
<text transform="translate(243.5,78.5) scale(1,1.1)" font-size="27.5" text-anchor="start">9.0 T</text>
<path d="M161 103.4H238" stroke="#8F5500" stroke-width="3"/>
<g fill="#fff" stroke="#8F5500" stroke-width="3" stroke-linejoin="miter" stroke-miterlimit="10"><path d="M194.9 98.8H204.1V108H194.9Z"/></g>
<text transform="translate(243.5,115.2) scale(1,1.1)" font-size="27.5" text-anchor="start">7.0 T</text>
<path d="M161 140H238" stroke="#4C9A00" stroke-width="3"/>
<g fill="#4C9A00" stroke="#4C9A00" stroke-width="1" stroke-linejoin="miter"><path d="M199.5 129.2L202.4 136.1L209.8 136.7L204.1 141.5L205.8 148.7L199.5 144.9L193.2 148.7L194.9 141.5L189.2 136.7L196.6 136.1Z"/><path d="M199.5 137.8L200.1 139.2L201.6 139.3L200.4 140.3L200.8 141.7L199.5 141L198.2 141.7L198.6 140.3L197.4 139.3L198.9 139.2Z" fill="#fff" stroke="none"/></g>
<text transform="translate(243.5,151.8) scale(1,1.1)" font-size="27.5" text-anchor="start">5.0 T</text>
<path d="M161 176.6H238" stroke="#1F4E8F" stroke-width="3"/>
<g fill="#fff" stroke="#1F4E8F" stroke-width="3" stroke-linejoin="miter" stroke-miterlimit="10"><path d="M199.5 167.7L207.4 181.1L191.6 181.1Z"/></g>
<text transform="translate(243.5,188.4) scale(1,1.1)" font-size="27.5" text-anchor="start">3.0 T</text>
<path d="M161 213H238" stroke="#5A2D6E" stroke-width="3"/>
<path d="M193.5 213H205.5M199.5 207V219M195.3 208.8L203.7 217.2M195.3 217.2L203.7 208.8" stroke="#5A2D6E" stroke-width="3" fill="none" stroke-linecap="butt"/>
<text transform="translate(243.5,224.8) scale(1,1.1)" font-size="27.5" text-anchor="start">1.0 T</text>
<path d="M161 249.5H238" stroke="#A00000" stroke-width="3"/>
<g fill="#fff" stroke="#A00000" stroke-width="3" stroke-linejoin="miter" stroke-miterlimit="10"><path d="M191 249.5L203 242.2L203 256.8Z"/></g>
<text transform="translate(243.5,261.3) scale(1,1.1)" font-size="27.5" text-anchor="start">0.5 T</text>
<path d="M161 286.1H238" stroke="#C8A000" stroke-width="3"/>
<g fill="#fff" stroke="#C8A000" stroke-width="3" stroke-linejoin="miter" stroke-miterlimit="10"><path d="M192.9 286.1a6.6 6.6 0 1 0 13.2 0a6.6 6.6 0 1 0 -13.2 0"/></g>
<text transform="translate(243.5,297.9) scale(1,1.1)" font-size="27.5" text-anchor="start">0.0 T</text>
<path d="M161 328.7H238" stroke="#0000ff" stroke-width="5.4"/>
<text transform="translate(244.5,336.2) scale(1,1.1)" font-size="27" font-style="italic">ρ<tspan font-size="21" dy="11.4">n</tspan><tspan dy="-11.4">(T)</tspan></text>
<path d="M1438.8 19.5V669.5M1715.7 19.5V669.5M1162 507H1992.5M1162 344.5H1992.5M1162 182H1992.5" stroke="#dedede" stroke-width="1.6" fill="none"/>
<path d="M1162 19.5H1992.5V669.5H1162ZM1162 669.5V660.5M1162 19.5V28.5M1438.8 669.5V660.5M1438.8 19.5V28.5M1715.7 669.5V660.5M1715.7 19.5V28.5M1992.5 669.5V660.5M1992.5 19.5V28.5M1162 669.5H1171M1992.5 669.5H1983.5M1162 507H1171M1992.5 507H1983.5M1162 344.5H1171M1992.5 344.5H1983.5M1162 182H1171M1992.5 182H1983.5M1162 19.5H1171M1992.5 19.5H1983.5" stroke="#262626" stroke-width="1.8" fill="none"/>
<g fill="#fff" stroke="#D25400" stroke-width="3.5" stroke-linejoin="miter" stroke-miterlimit="10"><path d="M1992.5 439L2000.2 449.5L1992.5 460L1984.8 449.5Z"/><path d="M1979.2 438.6L1986.9 449.1L1979.2 459.6L1971.5 449.1Z"/><path d="M1966.5 438.3L1974.2 448.8L1966.5 459.3L1958.8 448.8Z"/><path d="M1952.1 437.9L1959.8 448.4L1952.1 458.9L1944.4 448.4Z"/><path d="M1928.3 437.3L1936 447.8L1928.3 458.3L1920.6 447.8Z"/><path d="M1908.3 434.7L1916 445.2L1908.3 455.7L1900.6 445.2Z"/><path d="M1887.3 432L1895 442.5L1887.3 453L1879.6 442.5Z"/><path d="M1876.2 430.6L1883.9 441.1L1876.2 451.6L1868.5 441.1Z"/><path d="M1865.2 429.2L1872.9 439.7L1865.2 450.2L1857.5 439.7Z"/><path d="M1854.1 427.8L1861.8 438.3L1854.1 448.8L1846.4 438.3Z"/><path d="M1843 426.4L1850.7 436.9L1843 447.4L1835.3 436.9Z"/><path d="M1831.9 424.9L1839.6 435.4L1831.9 445.9L1824.2 435.4Z"/><path d="M1820.9 422.7L1828.6 433.2L1820.9 443.7L1813.2 433.2Z"/><path d="M1809.8 420.5L1817.5 431L1809.8 441.5L1802.1 431Z"/><path d="M1798.7 418.3L1806.4 428.8L1798.7 439.3L1791 428.8Z"/><path d="M1787.6 416.3L1795.3 426.8L1787.6 437.3L1779.9 426.8Z"/><path d="M1776.6 414.8L1784.3 425.3L1776.6 435.8L1768.9 425.3Z"/><path d="M1765.5 412.4L1773.2 422.9L1765.5 433.4L1757.8 422.9Z"/><path d="M1754.4 409.7L1762.1 420.2L1754.4 430.7L1746.7 420.2Z"/><path d="M1743.3 407.1L1751 417.6L1743.3 428.1L1735.6 417.6Z"/><path d="M1732.3 403.6L1740 414.1L1732.3 424.6L1724.6 414.1Z"/><path d="M1721.2 400.1L1728.9 410.6L1721.2 421.1L1713.5 410.6Z"/><path d="M1710.1 396.5L1717.8 407L1710.1 417.5L1702.4 407Z"/><path d="M1699.1 392.9L1706.8 403.4L1699.1 413.9L1691.4 403.4Z"/><path d="M1688 389.3L1695.7 399.8L1688 410.3L1680.3 399.8Z"/><path d="M1676.9 385.8L1684.6 396.3L1676.9 406.8L1669.2 396.3Z"/><path d="M1665.8 382.2L1673.5 392.7L1665.8 403.2L1658.1 392.7Z"/><path d="M1654.8 378.6L1662.5 389.1L1654.8 399.6L1647.1 389.1Z"/><path d="M1643.7 374.2L1651.4 384.7L1643.7 395.2L1636 384.7Z"/><path d="M1632.6 367.4L1640.3 377.9L1632.6 388.4L1624.9 377.9Z"/><path d="M1621.5 360.5L1629.2 371L1621.5 381.5L1613.8 371Z"/><path d="M1610.5 353.7L1618.2 364.2L1610.5 374.7L1602.8 364.2Z"/><path d="M1599.4 346.5L1607.1 357L1599.4 367.5L1591.7 357Z"/><path d="M1588.3 338.9L1596 349.4L1588.3 359.9L1580.6 349.4Z"/><path d="M1577.2 331.3L1585 341.8L1577.2 352.3L1569.5 341.8Z"/><path d="M1566.2 323.9L1573.9 334.4L1566.2 344.9L1558.5 334.4Z"/><path d="M1555.1 316.6L1562.8 327.1L1555.1 337.6L1547.4 327.1Z"/><path d="M1544 308.1L1551.7 318.6L1544 329.1L1536.3 318.6Z"/><path d="M1533 298.6L1540.7 309.1L1533 319.6L1525.3 309.1Z"/><path d="M1521.9 289.1L1529.6 299.6L1521.9 310.1L1514.2 299.6Z"/><path d="M1510.3 277.1L1518 287.6L1510.3 298.1L1502.6 287.6Z"/><path d="M1500.3 261.5L1508 272L1500.3 282.5L1492.6 272Z"/><path d="M1488.7 247.6L1496.4 258.1L1488.7 268.6L1481 258.1Z"/><path d="M1477.6 231.9L1485.3 242.4L1477.6 252.9L1469.9 242.4Z"/><path d="M1467.6 212.4L1475.3 222.9L1467.6 233.4L1459.9 222.9Z"/><path d="M1454.9 190.7L1462.6 201.2L1454.9 211.7L1447.2 201.2Z"/><path d="M1444.4 168.9L1452.1 179.4L1444.4 189.9L1436.7 179.4Z"/><path d="M1435.5 139.3L1443.2 149.8L1435.5 160.3L1427.8 149.8Z"/><path d="M1423.3 99L1431 109.5L1423.3 120L1415.6 109.5Z"/><path d="M1411.7 57.4L1419.4 67.9L1411.7 78.4L1404 67.9Z"/></g>
<g fill="#fff" stroke="#8F5500" stroke-width="3.2" stroke-linejoin="miter" stroke-miterlimit="10"><path d="M1985.5 491.5H1998.3V504.3H1985.5Z"/><path d="M1972.8 490.9H1985.6V503.7H1972.8Z"/><path d="M1960.1 490.4H1972.9V503.2H1960.1Z"/><path d="M1947.3 489.9H1960.1V502.7H1947.3Z"/><path d="M1930.7 488.8H1943.5V501.6H1930.7Z"/><path d="M1903.6 486.8H1916.4V499.6H1903.6Z"/><path d="M1892.5 485.1H1905.3V497.9H1892.5Z"/><path d="M1881.5 483.4H1894.3V496.2H1881.5Z"/><path d="M1870.4 481.6H1883.2V494.4H1870.4Z"/><path d="M1859.3 479.9H1872.1V492.7H1859.3Z"/><path d="M1848.2 478.2H1861V491H1848.2Z"/><path d="M1837.2 476.5H1850V489.3H1837.2Z"/><path d="M1826.1 474.8H1838.9V487.6H1826.1Z"/><path d="M1815 473.2H1827.8V486H1815Z"/><path d="M1803.9 471.5H1816.7V484.3H1803.9Z"/><path d="M1792.9 469.6H1805.7V482.4H1792.9Z"/><path d="M1781.8 466.9H1794.6V479.7H1781.8Z"/><path d="M1770.7 464.2H1783.5V477H1770.7Z"/><path d="M1759.7 461.5H1772.5V474.3H1759.7Z"/><path d="M1748.6 458.3H1761.4V471.1H1748.6Z"/><path d="M1737.5 454.7H1750.3V467.5H1737.5Z"/><path d="M1726.4 451H1739.2V463.8H1726.4Z"/><path d="M1715.4 447.4H1728.2V460.2H1715.4Z"/><path d="M1704.3 443.4H1717.1V456.2H1704.3Z"/><path d="M1693.2 439.2H1706V452H1693.2Z"/><path d="M1682.1 434.8H1694.9V447.6H1682.1Z"/><path d="M1671.1 429.4H1683.9V442.2H1671.1Z"/><path d="M1660 424H1672.8V436.8H1660Z"/><path d="M1648.9 417.9H1661.7V430.7H1648.9Z"/><path d="M1637.8 411H1650.6V423.8H1637.8Z"/><path d="M1626.8 403.9H1639.6V416.7H1626.8Z"/><path d="M1615.7 394.6H1628.5V407.4H1615.7Z"/><path d="M1604.6 383.7H1617.4V396.5H1604.6Z"/><path d="M1593.6 372.5H1606.4V385.3H1593.6Z"/><path d="M1582.5 361.4H1595.3V374.2H1582.5Z"/><path d="M1571.4 346.1H1584.2V358.9H1571.4Z"/><path d="M1560.3 330.6H1573.1V343.4H1560.3Z"/><path d="M1549.3 308.9H1562.1V321.6H1549.3Z"/><path d="M1539.3 289.4H1552.1V302.1H1539.3Z"/><path d="M1527.1 261.7H1539.9V274.5H1527.1Z"/><path d="M1515.5 230.2H1528.3V243H1515.5Z"/><path d="M1505.5 193.8H1518.3V206.6H1505.5Z"/><path d="M1492.8 152.5H1505.6V165.3H1492.8Z"/><path d="M1482.8 104.4H1495.6V117.2H1482.8Z"/><path d="M1472.3 38.1H1485.1V50.9H1472.3Z"/></g>
<g fill="#4C9A00" stroke="#4C9A00" stroke-width="1.0" stroke-linejoin="miter"><path d="M1978.7 531.6L1981.8 539.1L1989.9 539.8L1983.7 545L1985.6 552.9L1978.7 548.7L1971.7 552.9L1973.6 545L1967.4 539.8L1975.5 539.1Z"/><path d="M1978.7 541L1979.3 542.5L1980.9 542.7L1979.7 543.7L1980 545.3L1978.7 544.5L1977.3 545.3L1977.6 543.7L1976.4 542.7L1978 542.5Z" fill="#fff" stroke="none"/><path d="M1965.4 531.3L1968.5 538.8L1976.6 539.4L1970.4 544.7L1972.3 552.6L1965.4 548.4L1958.4 552.6L1960.3 544.7L1954.1 539.4L1962.2 538.8Z"/><path d="M1965.4 540.7L1966 542.2L1967.6 542.3L1966.4 543.4L1966.8 545L1965.4 544.1L1964 545L1964.4 543.4L1963.1 542.3L1964.7 542.2Z" fill="#fff" stroke="none"/><path d="M1952.1 531L1955.2 538.5L1963.3 539.1L1957.1 544.4L1959 552.3L1952.1 548.1L1945.1 552.3L1947 544.4L1940.9 539.1L1949 538.5Z"/><path d="M1952.1 540.4L1952.7 541.9L1954.3 542L1953.1 543.1L1953.5 544.7L1952.1 543.8L1950.7 544.7L1951.1 543.1L1949.8 542L1951.5 541.9Z" fill="#fff" stroke="none"/><path d="M1938.8 530.6L1941.9 538.1L1950 538.8L1943.8 544.1L1945.7 552L1938.8 547.7L1931.9 552L1933.7 544.1L1927.6 538.8L1935.7 538.1Z"/><path d="M1938.8 540.1L1939.4 541.6L1941 541.7L1939.8 542.8L1940.2 544.3L1938.8 543.5L1937.4 544.3L1937.8 542.8L1936.5 541.7L1938.2 541.6Z" fill="#fff" stroke="none"/><path d="M1910 528.3L1913.1 535.8L1921.2 536.5L1915.1 541.8L1916.9 549.7L1910 545.4L1903.1 549.7L1905 541.8L1898.8 536.5L1906.9 535.8Z"/><path d="M1910 537.8L1910.6 539.3L1912.2 539.4L1911 540.4L1911.4 542L1910 541.2L1908.6 542L1909 540.4L1907.8 539.4L1909.4 539.3Z" fill="#fff" stroke="none"/><path d="M1898.9 526.8L1902.1 534.3L1910.2 535L1904 540.2L1905.9 548.1L1898.9 543.9L1892 548.1L1893.9 540.2L1887.7 535L1895.8 534.3Z"/><path d="M1898.9 536.2L1899.6 537.7L1901.2 537.9L1899.9 538.9L1900.3 540.5L1898.9 539.7L1897.5 540.5L1897.9 538.9L1896.7 537.9L1898.3 537.7Z" fill="#fff" stroke="none"/><path d="M1887.9 525.3L1891 532.8L1899.1 533.4L1892.9 538.7L1894.8 546.6L1887.9 542.4L1880.9 546.6L1882.8 538.7L1876.6 533.4L1884.7 532.8Z"/><path d="M1887.9 534.7L1888.5 536.2L1890.1 536.4L1888.9 537.4L1889.2 539L1887.9 538.1L1886.5 539L1886.8 537.4L1885.6 536.4L1887.2 536.2Z" fill="#fff" stroke="none"/><path d="M1876.8 523.6L1879.9 531.1L1888 531.8L1881.8 537L1883.7 544.9L1876.8 540.7L1869.8 544.9L1871.7 537L1865.6 531.8L1873.7 531.1Z"/><path d="M1876.8 533L1877.4 534.5L1879 534.7L1877.8 535.7L1878.2 537.3L1876.8 536.5L1875.4 537.3L1875.8 535.7L1874.5 534.7L1876.2 534.5Z" fill="#fff" stroke="none"/><path d="M1865.7 521.7L1868.8 529.2L1876.9 529.9L1870.8 535.1L1872.6 543.1L1865.7 538.8L1858.8 543.1L1860.7 535.1L1854.5 529.9L1862.6 529.2Z"/><path d="M1865.7 531.1L1866.3 532.6L1868 532.8L1866.7 533.8L1867.1 535.4L1865.7 534.6L1864.3 535.4L1864.7 533.8L1863.5 532.8L1865.1 532.6Z" fill="#fff" stroke="none"/><path d="M1854.6 519.8L1857.8 527.3L1865.9 528L1859.7 533.3L1861.6 541.2L1854.6 536.9L1847.7 541.2L1849.6 533.3L1843.4 528L1851.5 527.3Z"/><path d="M1854.6 529.3L1855.3 530.8L1856.9 530.9L1855.6 531.9L1856 533.5L1854.6 532.7L1853.2 533.5L1853.6 531.9L1852.4 530.9L1854 530.8Z" fill="#fff" stroke="none"/><path d="M1843.6 517.9L1846.7 525.4L1854.8 526.1L1848.6 531.4L1850.5 539.3L1843.6 535L1836.6 539.3L1838.5 531.4L1832.3 526.1L1840.4 525.4Z"/><path d="M1843.6 527.4L1844.2 528.9L1845.8 529L1844.6 530L1845 531.6L1843.6 530.8L1842.2 531.6L1842.6 530L1841.3 529L1842.9 528.9Z" fill="#fff" stroke="none"/><path d="M1832.5 515.7L1835.6 523.2L1843.7 523.9L1837.5 529.2L1839.4 537.1L1832.5 532.8L1825.6 537.1L1827.4 529.2L1821.3 523.9L1829.4 523.2Z"/><path d="M1832.5 525.2L1833.1 526.7L1834.7 526.8L1833.5 527.9L1833.9 529.4L1832.5 528.6L1831.1 529.4L1831.5 527.9L1830.2 526.8L1831.9 526.7Z" fill="#fff" stroke="none"/><path d="M1821.4 513.3L1824.5 520.8L1832.6 521.4L1826.5 526.7L1828.4 534.6L1821.4 530.4L1814.5 534.6L1816.4 526.7L1810.2 521.4L1818.3 520.8Z"/><path d="M1821.4 522.7L1822 524.2L1823.7 524.3L1822.4 525.4L1822.8 527L1821.4 526.1L1820 527L1820.4 525.4L1819.2 524.3L1820.8 524.2Z" fill="#fff" stroke="none"/><path d="M1810.3 510.8L1813.5 518.3L1821.6 518.9L1815.4 524.2L1817.3 532.1L1810.3 527.9L1803.4 532.1L1805.3 524.2L1799.1 518.9L1807.2 518.3Z"/><path d="M1810.3 520.2L1811 521.7L1812.6 521.9L1811.4 522.9L1811.7 524.5L1810.3 523.7L1809 524.5L1809.3 522.9L1808.1 521.9L1809.7 521.7Z" fill="#fff" stroke="none"/><path d="M1799.3 508.3L1802.4 515.8L1810.5 516.5L1804.3 521.8L1806.2 529.7L1799.3 525.4L1792.3 529.7L1794.2 521.8L1788 516.5L1796.1 515.8Z"/><path d="M1799.3 517.8L1799.9 519.3L1801.5 519.4L1800.3 520.5L1800.7 522L1799.3 521.2L1797.9 522L1798.3 520.5L1797 519.4L1798.6 519.3Z" fill="#fff" stroke="none"/><path d="M1788.2 505.3L1791.3 512.8L1799.4 513.4L1793.2 518.7L1795.1 526.6L1788.2 522.4L1781.3 526.6L1783.1 518.7L1777 513.4L1785.1 512.8Z"/><path d="M1788.2 514.7L1788.8 516.2L1790.4 516.4L1789.2 517.4L1789.6 519L1788.2 518.2L1786.8 519L1787.2 517.4L1786 516.4L1787.6 516.2Z" fill="#fff" stroke="none"/><path d="M1777.1 502.2L1780.2 509.7L1788.3 510.4L1782.2 515.7L1784.1 523.6L1777.1 519.3L1770.2 523.6L1772.1 515.7L1765.9 510.4L1774 509.7Z"/><path d="M1777.1 511.7L1777.7 513.2L1779.4 513.3L1778.1 514.4L1778.5 515.9L1777.1 515.1L1775.7 515.9L1776.1 514.4L1774.9 513.3L1776.5 513.2Z" fill="#fff" stroke="none"/><path d="M1766.1 499.2L1769.2 506.7L1777.3 507.3L1771.1 512.6L1773 520.5L1766.1 516.3L1759.1 520.5L1761 512.6L1754.8 507.3L1762.9 506.7Z"/><path d="M1766.1 508.6L1766.7 510.1L1768.3 510.2L1767.1 511.3L1767.4 512.9L1766.1 512L1764.7 512.9L1765 511.3L1763.8 510.2L1765.4 510.1Z" fill="#fff" stroke="none"/><path d="M1755 495.6L1758.1 503.1L1766.2 503.7L1760 509L1761.9 516.9L1755 512.7L1748 516.9L1749.9 509L1743.8 503.7L1751.9 503.1Z"/><path d="M1755 505L1755.6 506.5L1757.2 506.6L1756 507.7L1756.4 509.3L1755 508.4L1753.6 509.3L1754 507.7L1752.7 506.6L1754.4 506.5Z" fill="#fff" stroke="none"/><path d="M1743.9 491.3L1747 498.8L1755.1 499.5L1749 504.7L1750.8 512.6L1743.9 508.4L1737 512.6L1738.9 504.7L1732.7 499.5L1740.8 498.8Z"/><path d="M1743.9 500.7L1744.5 502.2L1746.1 502.4L1744.9 503.4L1745.3 505L1743.9 504.2L1742.5 505L1742.9 503.4L1741.7 502.4L1743.3 502.2Z" fill="#fff" stroke="none"/><path d="M1732.8 487L1736 494.5L1744.1 495.2L1737.9 500.5L1739.8 508.4L1732.8 504.2L1725.9 508.4L1727.8 500.5L1721.6 495.2L1729.7 494.5Z"/><path d="M1732.8 496.5L1733.5 498L1735.1 498.1L1733.8 499.2L1734.2 500.8L1732.8 499.9L1731.4 500.8L1731.8 499.2L1730.6 498.1L1732.2 498Z" fill="#fff" stroke="none"/><path d="M1721.8 480.6L1724.9 488.1L1733 488.8L1726.8 494.1L1728.7 502L1721.8 497.7L1714.8 502L1716.7 494.1L1710.5 488.8L1718.6 488.1Z"/><path d="M1721.8 490.1L1722.4 491.6L1724 491.7L1722.8 492.7L1723.1 494.3L1721.8 493.5L1720.4 494.3L1720.7 492.7L1719.5 491.7L1721.1 491.6Z" fill="#fff" stroke="none"/><path d="M1710.7 472.4L1713.8 479.9L1721.9 480.6L1715.7 485.9L1717.6 493.8L1710.7 489.5L1703.7 493.8L1705.6 485.9L1699.5 480.6L1707.6 479.9Z"/><path d="M1710.7 481.9L1711.3 483.4L1712.9 483.5L1711.7 484.5L1712.1 486.1L1710.7 485.3L1709.3 486.1L1709.7 484.5L1708.4 483.5L1710.1 483.4Z" fill="#fff" stroke="none"/><path d="M1699.6 463.6L1702.7 471.1L1710.8 471.8L1704.7 477.1L1706.5 485L1699.6 480.7L1692.7 485L1694.6 477.1L1688.4 471.8L1696.5 471.1Z"/><path d="M1699.6 473.1L1700.2 474.6L1701.9 474.7L1700.6 475.8L1701 477.3L1699.6 476.5L1698.2 477.3L1698.6 475.8L1697.4 474.7L1699 474.6Z" fill="#fff" stroke="none"/><path d="M1688.5 453.7L1691.7 461.2L1699.8 461.9L1693.6 467.2L1695.5 475.1L1688.5 470.8L1681.6 475.1L1683.5 467.2L1677.3 461.9L1685.4 461.2Z"/><path d="M1688.5 463.2L1689.2 464.7L1690.8 464.8L1689.5 465.9L1689.9 467.4L1688.5 466.6L1687.1 467.4L1687.5 465.9L1686.3 464.8L1687.9 464.7Z" fill="#fff" stroke="none"/><path d="M1677.5 442.3L1680.6 449.9L1688.7 450.5L1682.5 455.8L1684.4 463.7L1677.5 459.5L1670.5 463.7L1672.4 455.8L1666.2 450.5L1674.3 449.9Z"/><path d="M1677.5 451.8L1678.1 453.3L1679.7 453.4L1678.5 454.5L1678.9 456.1L1677.5 455.2L1676.1 456.1L1676.5 454.5L1675.2 453.4L1676.8 453.3Z" fill="#fff" stroke="none"/><path d="M1666.4 429.6L1669.5 437.1L1677.6 437.7L1671.4 443L1673.3 450.9L1666.4 446.7L1659.5 450.9L1661.3 443L1655.2 437.7L1663.3 437.1Z"/><path d="M1666.4 439L1667 440.5L1668.6 440.7L1667.4 441.7L1667.8 443.3L1666.4 442.4L1665 443.3L1665.4 441.7L1664.1 440.7L1665.8 440.5Z" fill="#fff" stroke="none"/><path d="M1655.3 414.2L1658.4 421.7L1666.5 422.3L1660.4 427.6L1662.3 435.5L1655.3 431.3L1648.4 435.5L1650.3 427.6L1644.1 422.3L1652.2 421.7Z"/><path d="M1655.3 423.6L1655.9 425.1L1657.6 425.3L1656.3 426.3L1656.7 427.9L1655.3 427L1653.9 427.9L1654.3 426.3L1653.1 425.3L1654.7 425.1Z" fill="#fff" stroke="none"/><path d="M1644.2 395.5L1647.4 403.1L1655.5 403.7L1649.3 409L1651.2 416.9L1644.2 412.7L1637.3 416.9L1639.2 409L1633 403.7L1641.1 403.1Z"/><path d="M1644.2 405L1644.9 406.5L1646.5 406.6L1645.3 407.7L1645.6 409.3L1644.2 408.4L1642.9 409.3L1643.2 407.7L1642 406.6L1643.6 406.5Z" fill="#fff" stroke="none"/><path d="M1633.2 370.7L1636.3 378.2L1644.4 378.9L1638.2 384.2L1640.1 392.1L1633.2 387.8L1626.2 392.1L1628.1 384.2L1621.9 378.9L1630 378.2Z"/><path d="M1633.2 380.2L1633.8 381.7L1635.4 381.8L1634.2 382.9L1634.6 384.4L1633.2 383.6L1631.8 384.4L1632.2 382.9L1630.9 381.8L1632.5 381.7Z" fill="#fff" stroke="none"/><path d="M1622.1 344.7L1625.2 352.2L1633.3 352.9L1627.1 358.2L1629 366.1L1622.1 361.8L1615.2 366.1L1617 358.2L1610.9 352.9L1619 352.2Z"/><path d="M1622.1 354.2L1622.7 355.7L1624.3 355.8L1623.1 356.9L1623.5 358.4L1622.1 357.6L1620.7 358.4L1621.1 356.9L1619.9 355.8L1621.5 355.7Z" fill="#fff" stroke="none"/><path d="M1611 310.3L1614.1 317.8L1622.2 318.4L1616.1 323.7L1618 331.6L1611 327.4L1604.1 331.6L1606 323.7L1599.8 318.4L1607.9 317.8Z"/><path d="M1611 319.7L1611.6 321.2L1613.3 321.3L1612 322.4L1612.4 324L1611 323.1L1609.6 324L1610 322.4L1608.8 321.3L1610.4 321.2Z" fill="#fff" stroke="none"/><path d="M1601.1 269L1604.2 276.5L1612.3 277.2L1606.1 282.4L1608 290.3L1601.1 286.1L1594.1 290.3L1596 282.4L1589.8 277.2L1597.9 276.5Z"/><path d="M1601.1 278.4L1601.7 279.9L1603.3 280.1L1602.1 281.1L1602.4 282.7L1601.1 281.9L1599.7 282.7L1600 281.1L1598.8 280.1L1600.4 279.9Z" fill="#fff" stroke="none"/><path d="M1590 209.8L1593.1 217.4L1601.2 218L1595 223.3L1596.9 231.2L1590 227L1583 231.2L1584.9 223.3L1578.8 218L1586.9 217.4Z"/><path d="M1590 219.3L1590.6 220.8L1592.2 220.9L1591 222L1591.4 223.6L1590 222.7L1588.6 223.6L1589 222L1587.7 220.9L1589.4 220.8Z" fill="#fff" stroke="none"/><path d="M1577.8 139.3L1580.9 146.8L1589 147.5L1582.9 152.8L1584.7 160.7L1577.8 156.4L1570.9 160.7L1572.8 152.8L1566.6 147.5L1574.7 146.8Z"/><path d="M1577.8 148.8L1578.4 150.3L1580 150.4L1578.8 151.5L1579.2 153L1577.8 152.2L1576.4 153L1576.8 151.5L1575.6 150.4L1577.2 150.3Z" fill="#fff" stroke="none"/><path d="M1567.3 35.7L1570.4 43.2L1578.5 43.8L1572.3 49.1L1574.2 57L1567.3 52.8L1560.3 57L1562.2 49.1L1556.1 43.8L1564.2 43.2Z"/><path d="M1567.3 45.1L1567.9 46.6L1569.5 46.7L1568.3 47.8L1568.7 49.4L1567.3 48.5L1565.9 49.4L1566.3 47.8L1565 46.7L1566.7 46.6Z" fill="#fff" stroke="none"/></g>
<g fill="#fff" stroke="#1F4E8F" stroke-width="3.4" stroke-linejoin="miter" stroke-miterlimit="10"><path d="M1992.5 584.5L2001.5 600.5L1983.5 600.5Z"/><path d="M1978.7 584.1L1987.7 600.1L1969.7 600.1Z"/><path d="M1964.8 583.8L1973.8 599.8L1955.8 599.8Z"/><path d="M1951 583.4L1960 599.4L1942 599.4Z"/><path d="M1934.4 582.7L1943.4 598.7L1925.4 598.7Z"/><path d="M1910.6 580.6L1919.6 596.6L1901.6 596.6Z"/><path d="M1899.5 577.4L1908.5 593.4L1890.5 593.4Z"/><path d="M1888.4 575L1897.4 591L1879.4 591Z"/><path d="M1877.3 572.7L1886.3 588.7L1868.3 588.7Z"/><path d="M1866.3 570.3L1875.3 586.3L1857.3 586.3Z"/><path d="M1855.2 567.6L1864.2 583.6L1846.2 583.6Z"/><path d="M1844.1 564.5L1853.1 580.5L1835.1 580.5Z"/><path d="M1833 561.5L1842 577.5L1824 577.5Z"/><path d="M1822 558.5L1831 574.5L1813 574.5Z"/><path d="M1810.9 554.5L1819.9 570.5L1801.9 570.5Z"/><path d="M1799.8 551L1808.8 567L1790.8 567Z"/><path d="M1788.8 542.8L1797.8 558.8L1779.8 558.8Z"/><path d="M1777.7 534.1L1786.7 550.1L1768.7 550.1Z"/><path d="M1766.6 523.9L1775.6 539.9L1757.6 539.9Z"/><path d="M1755.5 512.1L1764.5 528.1L1746.5 528.1Z"/><path d="M1744.5 497.2L1753.5 513.2L1735.5 513.2Z"/><path d="M1733.4 473.5L1742.4 489.5L1724.4 489.5Z"/><path d="M1722.3 444.7L1731.3 460.7L1713.3 460.7Z"/><path d="M1710.1 406.4L1719.1 422.4L1701.1 422.4Z"/><path d="M1700.2 353.7L1709.2 369.7L1691.2 369.7Z"/><path d="M1689.6 276.4L1698.6 292.4L1680.6 292.4Z"/><path d="M1677.5 167.2L1686.5 183.2L1668.5 183.2Z"/><path d="M1665.8 11.5L1674.8 27.5L1656.8 27.5Z"/></g>
<path d="M1982.9 643.8H1998.7M1990.8 635.9V651.7M1985.7 638.7L1995.9 648.9M1985.7 648.9L1995.9 638.7M1967.4 643.8H1983.2M1975.3 635.9V651.7M1970.2 638.7L1980.4 648.9M1970.2 648.9L1980.4 638.7M1953 643.8H1968.8M1960.9 635.9V651.7M1955.8 638.7L1966 648.9M1955.8 648.9L1966 638.7M1923.7 643.8H1939.5M1931.6 635.9V651.7M1926.5 638.7L1936.7 648.9M1926.5 648.9L1936.7 638.7M1907.1 642.2H1922.9M1915 634.3V650.1M1909.9 637.1L1920.1 647.3M1909.9 647.3L1920.1 637.1M1894.9 640.9H1910.7M1902.8 633V648.8M1897.7 635.8L1907.9 646M1897.7 646L1907.9 635.8M1881.6 639.3H1897.4M1889.5 631.4V647.2M1884.4 634.2L1894.6 644.4M1884.4 644.4L1894.6 634.2M1872.2 637H1888M1880.1 629.1V644.9M1875 631.9L1885.2 642.1M1875 642.1L1885.2 631.9M1858.9 635H1874.7M1866.8 627.1V642.9M1861.7 629.9L1871.9 640.1M1861.7 640.1L1871.9 629.9M1845.6 633.8H1861.4M1853.5 625.9V641.6M1848.4 628.6L1858.6 638.9M1848.4 638.9L1858.6 628.6M1834.6 629.2H1850.4M1842.5 621.3V637.1M1837.4 624.1L1847.6 634.3M1837.4 634.3L1847.6 624.1M1821.3 621.4H1837.1M1829.2 613.5V629.3M1824.1 616.3L1834.3 626.5M1824.1 626.5L1834.3 616.3M1811.9 609H1827.7M1819.8 601.1V616.9M1814.7 603.9L1824.9 614.1M1814.7 614.1L1824.9 603.9M1799.1 585H1814.9M1807 577.1V592.9M1801.9 579.9L1812.1 590.1M1801.9 590.1L1812.1 579.9M1786.9 549.9H1802.7M1794.8 542V557.8M1789.7 544.8L1799.9 555M1789.7 555L1799.9 544.8M1775.3 480.7H1791.1M1783.2 472.8V488.6M1778.1 475.6L1788.3 485.8M1778.1 485.8L1788.3 475.6M1763.7 347.4H1779.5M1771.6 339.5V355.3M1766.5 342.3L1776.7 352.5M1766.5 352.5L1776.7 342.3M1751 33.5H1766.8M1758.9 25.6V41.4M1753.8 28.4L1764 38.6M1753.8 38.6L1764 28.4" stroke="#5A2D6E" stroke-width="3.0" fill="none" stroke-linecap="butt"/>
<g fill="#fff" stroke="#A00000" stroke-width="3.4" stroke-linejoin="miter" stroke-miterlimit="10"><path d="M1982 658.5L1997.5 649.7L1997.5 667.2Z"/><path d="M1966.5 658L1982 649.3L1982 666.8Z"/><path d="M1953.2 657.6L1968.7 648.9L1968.7 666.4Z"/><path d="M1937.1 657.1L1952.6 648.4L1952.6 665.9Z"/><path d="M1908.3 656.5L1923.8 647.8L1923.8 665.2Z"/><path d="M1892.8 656.2L1908.3 647.4L1908.3 664.9Z"/><path d="M1881.8 653.9L1897.3 645.1L1897.3 662.6Z"/><path d="M1870.7 650.6L1886.2 641.9L1886.2 659.4Z"/><path d="M1859.1 644.8L1874.6 636L1874.6 653.5Z"/><path d="M1845.8 633.8L1861.3 625L1861.3 642.5Z"/><path d="M1832.5 616.9L1848 608.1L1848 625.6Z"/><path d="M1824.7 585.6L1840.2 576.9L1840.2 594.4Z"/><path d="M1808.7 486.5L1824.2 477.8L1824.2 495.3Z"/><path d="M1797.1 262L1812.6 253.2L1812.6 270.7Z"/></g>
<path d="M1226.8 19.5L1895.6 668" stroke="#ff0000" stroke-width="5.6" clip-path="url(#cb)"/>
<text transform="translate(1162,713.5) scale(1,1.1)" font-size="31" text-anchor="middle">80</text>
<text transform="translate(1438.8,713.5) scale(1,1.1)" font-size="31" text-anchor="middle">85</text>
<text transform="translate(1715.7,713.5) scale(1,1.1)" font-size="31" text-anchor="middle">90</text>
<text transform="translate(1992.5,713.5) scale(1,1.1)" font-size="31" text-anchor="middle">95</text>
<text transform="translate(1151.2,682.9) scale(1,1.1)" font-size="31" text-anchor="end">0</text>
<text transform="translate(1151.2,520.4) scale(1,1.1)" font-size="31" text-anchor="end">5</text>
<text transform="translate(1151.2,357.9) scale(1,1.1)" font-size="31" text-anchor="end">10</text>
<text transform="translate(1151.2,195.4) scale(1,1.1)" font-size="31" text-anchor="end">15</text>
<text transform="translate(1151.2,32.9) scale(1,1.1)" font-size="31" text-anchor="end">20</text>
<text transform="translate(1578,756) scale(1,1.1)" font-size="31" text-anchor="middle"><tspan font-style="italic">T</tspan> (K)</text>
<text transform="translate(1086.6,427.5) rotate(-90) scale(1,1.1)" font-size="30.3" font-style="italic"><tspan x="0">B</tspan><tspan x="22">ρ</tspan><tspan x="41.5" dy="13.6" font-size="22">n</tspan><tspan x="51.5" dy="-13.6">/</tspan><tspan x="65">a</tspan><tspan x="81">ρ</tspan><tspan x="100" dy="13.6" font-size="22">ff</tspan><tspan x="124" dy="-13.6" font-style="normal">(T)</tspan></text>
<rect x="1175.5" y="370.2" width="180.3" height="273.4" fill="#fff" stroke="#262626" stroke-width="1.8"/>
<g fill="#fff" stroke="#D25400" stroke-width="3.5" stroke-linejoin="miter" stroke-miterlimit="10"><path d="M1221.8 381.5L1229.5 392L1221.8 402.5L1214.1 392Z"/></g>
<text transform="translate(1266.5,403.8) scale(1,1.1)" font-size="27.5" text-anchor="start">9.0 T</text>
<g fill="#fff" stroke="#8F5500" stroke-width="3.2" stroke-linejoin="miter" stroke-miterlimit="10"><path d="M1215.4 422.3H1228.2V435.1H1215.4Z"/></g>
<text transform="translate(1266.5,440.5) scale(1,1.1)" font-size="27.5" text-anchor="start">7.0 T</text>
<g fill="#4C9A00" stroke="#4C9A00" stroke-width="1.0" stroke-linejoin="miter"><path d="M1221.8 453.2L1224.9 460.7L1233 461.4L1226.9 466.6L1228.7 474.5L1221.8 470.3L1214.9 474.5L1216.7 466.6L1210.6 461.4L1218.7 460.7Z"/><path d="M1221.8 462.6L1222.4 464.1L1224 464.3L1222.8 465.3L1223.2 466.9L1221.8 466.1L1220.4 466.9L1220.8 465.3L1219.6 464.3L1221.2 464.1Z" fill="#fff" stroke="none"/></g>
<text transform="translate(1266.5,476.8) scale(1,1.1)" font-size="27.5" text-anchor="start">5.0 T</text>
<g fill="#fff" stroke="#1F4E8F" stroke-width="3.4" stroke-linejoin="miter" stroke-miterlimit="10"><path d="M1221.8 490.9L1230.8 506.9L1212.8 506.9Z"/></g>
<text transform="translate(1266.5,513.4) scale(1,1.1)" font-size="27.5" text-anchor="start">3.0 T</text>
<path d="M1213.9 538.3H1229.7M1221.8 530.4V546.2M1216.7 533.2L1226.9 543.4M1216.7 543.4L1226.9 533.2" stroke="#5A2D6E" stroke-width="3.0" fill="none" stroke-linecap="butt"/>
<text transform="translate(1266.5,550.1) scale(1,1.1)" font-size="27.5" text-anchor="start">1.0 T</text>
<g fill="#fff" stroke="#A00000" stroke-width="3.4" stroke-linejoin="miter" stroke-miterlimit="10"><path d="M1211 574.9L1226.5 566.1L1226.5 583.6Z"/></g>
<text transform="translate(1266.5,586.7) scale(1,1.1)" font-size="27.5" text-anchor="start">0.5 T</text>
<path d="M1183.3 617H1260.5" stroke="#ff0000" stroke-width="5.4"/>
<text transform="translate(1266.5,623.9) scale(1,1.1)" font-size="27.5" font-style="italic">B<tspan font-size="20.5" dy="11.9">c2</tspan><tspan dy="-11.9">(T)</tspan></text>
<text x="-1.5" y="31.6" font-family='"DejaVu Sans", sans-serif' font-weight="bold" font-size="43">a</text>
<text transform="translate(24.6,33.8) scale(1.2,1.12)" font-family='"DejaVu Sans", sans-serif' font-weight="bold" font-size="43">)</text>
<text x="1032.6" y="31.3" font-family='"DejaVu Sans", sans-serif' font-weight="bold" font-size="42">b</text>
<text transform="translate(1061.2,33.8) scale(1.2,1.12)" font-family='"DejaVu Sans", sans-serif' font-weight="bold" font-size="43">)</text>
</svg></body></html>
